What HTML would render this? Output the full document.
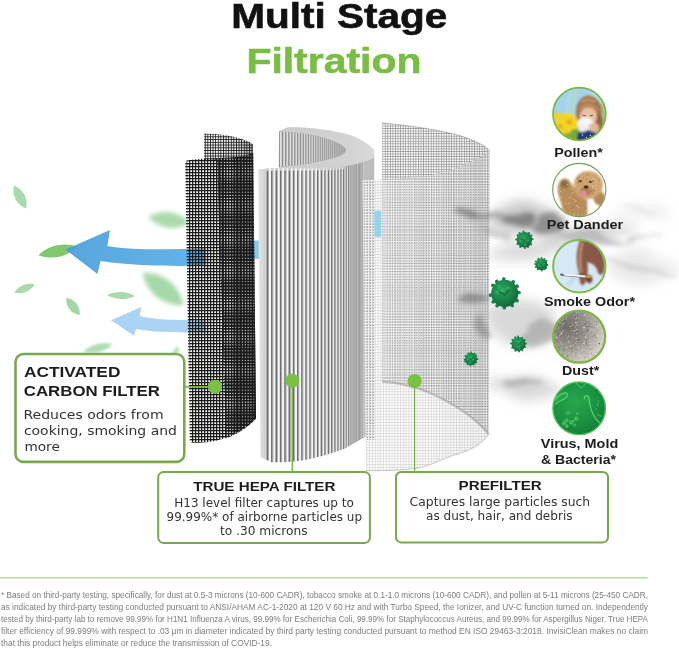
<!DOCTYPE html>
<html lang="en"><head><meta charset="utf-8"><title>Multi Stage Filtration</title>
<style>html,body{margin:0;padding:0;background:#fff;overflow:hidden}svg{display:block}</style></head>
<body>
<svg width="679" height="649" viewBox="0 0 679 649">
<defs>
<filter id="b1" x="-30%" y="-30%" width="160%" height="160%"><feGaussianBlur stdDeviation="1"/></filter>
<filter id="b2" x="-30%" y="-30%" width="160%" height="160%"><feGaussianBlur stdDeviation="2.2"/></filter>
<filter id="b4" x="-40%" y="-40%" width="180%" height="180%"><feGaussianBlur stdDeviation="4"/></filter>
<filter id="b7" x="-50%" y="-50%" width="200%" height="200%"><feGaussianBlur stdDeviation="7"/></filter>
<filter id="b12" x="-60%" y="-60%" width="220%" height="220%"><feGaussianBlur stdDeviation="12"/></filter>
<pattern id="cm" width="3" height="3" patternUnits="userSpaceOnUse" x="186" y="160"><rect width="3" height="1.25" fill="#1c1c1c"/><rect width="1.25" height="3" fill="#1c1c1c"/></pattern>
<pattern id="cm2" width="2.6" height="2.75" patternUnits="userSpaceOnUse" x="204.8" y="133.6"><rect width="2.6" height="0.9" fill="#262626"/><rect width="0.9" height="2.75" fill="#262626"/></pattern>
<pattern id="pm" width="2.55" height="2.55" patternUnits="userSpaceOnUse" x="382.3" y="123"><rect width="2.55" height="0.7" fill="#939393"/><rect width="0.7" height="2.55" fill="#939393"/></pattern>
<pattern id="pm2" width="2.8" height="2.8" patternUnits="userSpaceOnUse" x="362.6" y="180.3"><rect width="2.8" height="1.35" fill="#fff" fill-opacity="0.6"/><rect width="1.35" height="2.8" fill="#fff" fill-opacity="0.6"/><rect y="1.35" width="2.8" height="0.45" fill="#b4b4b4" fill-opacity="0.8"/><rect x="1.35" width="0.45" height="2.8" fill="#b4b4b4" fill-opacity="0.8"/></pattern>
<pattern id="pdots" width="2.45" height="2.65" patternUnits="userSpaceOnUse" x="382" y="181"><rect width="1.15" height="1.15" fill="#5c5c5c"/></pattern>
<linearGradient id="ag1" x1="0" x2="1" y1="0" y2="0"><stop offset="0" stop-color="#4b9fdc"/><stop offset="1" stop-color="#58aee6"/></linearGradient>
<clipPath id="hf"><path d="M258.2,169.3 C275,167.5 300,168.5 327,168 C346,167.5 362,163.5 374.2,157.5 L374.6,431.3 L345,448.4 C325,456 303,461.5 283,462.2 L271.5,462.2 L260.6,457.3 Z"/></clipPath>
<clipPath id="hi"><path d="M279.3,131.5 C290,131.8 305,133.5 318,136.2 C330,139 341,143.5 345.5,148.5 C347,151.5 344,154 339,156 C333,158.5 322,161.2 308,163.8 C298,165.3 288,166.2 279,167 Z"/></clipPath>
<linearGradient id="hband" gradientUnits="userSpaceOnUse" x1="300" x2="376" y1="0" y2="0"><stop offset="0" stop-color="#cdcdcd"/><stop offset="0.55" stop-color="#d2d2d2"/><stop offset="1" stop-color="#d9d9d9"/></linearGradient>
<linearGradient id="hig" gradientUnits="userSpaceOnUse" x1="279" x2="348" y1="0" y2="0"><stop offset="0" stop-color="#aaa" stop-opacity="0"/><stop offset="0.5" stop-color="#aaa" stop-opacity="0.2"/><stop offset="1" stop-color="#a6a6a6" stop-opacity="0.95"/></linearGradient>
<linearGradient id="hside" gradientUnits="userSpaceOnUse" x1="258" x2="266.6" y1="0" y2="0"><stop offset="0" stop-color="#e6e6e6"/><stop offset="1" stop-color="#cdcdcd"/></linearGradient>
<linearGradient id="hfg" gradientUnits="userSpaceOnUse" x1="257" x2="375" y1="0" y2="0"><stop offset="0" stop-color="#fff" stop-opacity="0"/><stop offset="0.5" stop-color="#808080" stop-opacity="0"/><stop offset="0.79" stop-color="#808080" stop-opacity="0.2"/><stop offset="0.885" stop-color="#808080" stop-opacity="0.34"/><stop offset="0.9" stop-color="#808080" stop-opacity="0.1"/><stop offset="1" stop-color="#808080" stop-opacity="0.16"/></linearGradient>
<linearGradient id="pedge" gradientUnits="userSpaceOnUse" x1="420" x2="490" y1="0" y2="0"><stop offset="0" stop-color="#8a8a8a" stop-opacity="0"/><stop offset="1" stop-color="#8a8a8a" stop-opacity="0.08"/></linearGradient>
<clipPath id="pfr"><path d="M362.6,180.3 C385,179.5 405,179 425,176 C450,172 475,162 489.5,150.5 L489,434 C483,444 468,452 452.5,455.5 C440,460.5 428,466.5 415.7,468.4 C405,470 385,470.9 366,470.7 Z"/></clipPath>
<pattern id="pstrip" width="2.8" height="2.8" patternUnits="userSpaceOnUse" x="362.6" y="180.3"><rect x="1.4" y="1.4" width="1.4" height="1.4" fill="#7c7c7c"/></pattern>
<clipPath id="pbk"><path d="M382.3,123 C410,125.5 450,131 470.6,139.3 C480,143.5 486,146.5 489.5,150.5 L488.5,434 C478,421 462,408 432.4,394 C415,386.5 398,382.5 382.3,381.7 Z"/></clipPath>
<linearGradient id="pdg" gradientUnits="userSpaceOnUse" x1="382" x2="490" y1="0" y2="0"><stop offset="0" stop-color="#fff" stop-opacity="0.3"/><stop offset="0.45" stop-color="#fff" stop-opacity="0.16"/><stop offset="1" stop-color="#fff" stop-opacity="0.1"/></linearGradient>
<filter id="smk" x="-20%" y="-40%" width="140%" height="180%"><feTurbulence type="fractalNoise" baseFrequency="0.018 0.035" numOctaves="3" seed="4" result="n"/><feDisplacementMap in="SourceGraphic" in2="n" scale="26" xChannelSelector="R" yChannelSelector="G" result="d"/><feGaussianBlur in="d" stdDeviation="2.6"/></filter>
<filter id="smk2" x="-20%" y="-40%" width="140%" height="180%"><feTurbulence type="fractalNoise" baseFrequency="0.012 0.03" numOctaves="2" seed="9" result="n"/><feDisplacementMap in="SourceGraphic" in2="n" scale="34" xChannelSelector="R" yChannelSelector="G" result="d"/><feGaussianBlur in="d" stdDeviation="6"/></filter>
<linearGradient id="cg" gradientUnits="userSpaceOnUse" x1="186" x2="256" y1="0" y2="0"><stop offset="0" stop-color="#111" stop-opacity="0"/><stop offset="0.42" stop-color="#111" stop-opacity="0.05"/><stop offset="0.7" stop-color="#111" stop-opacity="0.05"/><stop offset="1" stop-color="#111" stop-opacity="0.2"/></linearGradient>
<linearGradient id="cgb" gradientUnits="userSpaceOnUse" x1="217" x2="256" y1="0" y2="0"><stop offset="0" stop-color="#111" stop-opacity="0"/><stop offset="0.55" stop-color="#111" stop-opacity="0.1"/><stop offset="1" stop-color="#111" stop-opacity="0.4"/></linearGradient>
<radialGradient id="vg1" cx="0.4" cy="0.35" r="0.7"><stop offset="0" stop-color="#2a9f5c"/><stop offset="0.55" stop-color="#1b8649"/><stop offset="1" stop-color="#0e6334"/></radialGradient>
<radialGradient id="vg2" cx="0.4" cy="0.35" r="0.7"><stop offset="0" stop-color="#2a9f5c"/><stop offset="0.55" stop-color="#1b8649"/><stop offset="1" stop-color="#0e6334"/></radialGradient>
<radialGradient id="vg3" cx="0.4" cy="0.35" r="0.7"><stop offset="0" stop-color="#2a9f5c"/><stop offset="0.55" stop-color="#1b8649"/><stop offset="1" stop-color="#0e6334"/></radialGradient>
<radialGradient id="vg4" cx="0.4" cy="0.35" r="0.7"><stop offset="0" stop-color="#2a9f5c"/><stop offset="0.55" stop-color="#1b8649"/><stop offset="1" stop-color="#0e6334"/></radialGradient>
<radialGradient id="vg5" cx="0.4" cy="0.35" r="0.7"><stop offset="0" stop-color="#2a9f5c"/><stop offset="0.55" stop-color="#1b8649"/><stop offset="1" stop-color="#0e6334"/></radialGradient>
<clipPath id="cc0"><circle cx="579.4" cy="114" r="26.3"/></clipPath>
<clipPath id="cc1"><circle cx="579.3" cy="190" r="26.3"/></clipPath>
<clipPath id="cc2"><circle cx="579.3" cy="266.2" r="26.3"/></clipPath>
<clipPath id="cc3"><circle cx="579.2" cy="336.7" r="26.3"/></clipPath>
<clipPath id="cc4"><circle cx="579.2" cy="408.3" r="26.3"/></clipPath>
<radialGradient id="dg" gradientUnits="userSpaceOnUse" cx="567.2" cy="326.7" r="48"><stop offset="0" stop-color="#6f6b68"/><stop offset="0.45" stop-color="#9d9791"/><stop offset="0.8" stop-color="#d6cec6"/><stop offset="1" stop-color="#efeae5"/></radialGradient>
<radialGradient id="vg" gradientUnits="userSpaceOnUse" cx="575.2" cy="402.3" r="32"><stop offset="0" stop-color="#29a64d"/><stop offset="0.6" stop-color="#1c9443"/><stop offset="1" stop-color="#13803a"/></radialGradient>
</defs>
<rect width="679" height="649" fill="#fff"/>
<path d="M-21.0,0 C-8.4,-10.625 9.450000000000001,-9.774999999999999 21.0,0 C9.450000000000001,9.774999999999999 -8.4,10.625 -21.0,0Z" transform="translate(169,220) rotate(8)" fill="#8fcf92" opacity="0.75" filter="url(#b2)"/>
<path d="M-26.0,0 C-10.4,-13.75 11.700000000000001,-12.649999999999999 26.0,0 C11.700000000000001,12.649999999999999 -10.4,13.75 -26.0,0Z" transform="translate(163,289) rotate(38)" fill="#8fcf92" opacity="0.8" filter="url(#b2)"/>
<path d="M-15.0,0 C-6.0,-5.625 6.75,-5.175 15.0,0 C6.75,5.175 -6.0,5.625 -15.0,0Z" transform="translate(98,348) rotate(-14)" fill="#8fcf92" opacity="0.7" filter="url(#b1)"/>
<path d="M-5.0,0 C-2.0,-3.75 2.25,-3.4499999999999997 5.0,0 C2.25,3.4499999999999997 -2.0,3.75 -5.0,0Z" transform="translate(176,351) rotate(-60)" fill="#8fcf92" opacity="0.6" filter="url(#b1)"/>
<path d="M-13.0,0 C-5.2,-6.875 5.8500000000000005,-6.324999999999999 13.0,0 C5.8500000000000005,6.324999999999999 -5.2,6.875 -13.0,0Z" transform="translate(20,197) rotate(62)" fill="#a3d8a6" opacity="0.95"/>
<path d="M-20.0,0 C-8.0,-8.125 9.0,-7.475 20.0,0 C9.0,7.475 -8.0,8.125 -20.0,0Z" transform="translate(58,251) rotate(-12)" fill="#7fc96c" opacity="1"/>
<path d="M-11.0,0 C-4.4,-5.0 4.95,-4.6 11.0,0 C4.95,4.6 -4.4,5.0 -11.0,0Z" transform="translate(24.5,288.5) rotate(-22)" fill="#a3d8a6" opacity="0.95"/>
<path d="M-11.0,0 C-4.4,-6.25 4.95,-5.75 11.0,0 C4.95,5.75 -4.4,6.25 -11.0,0Z" transform="translate(73,306.5) rotate(52)" fill="#9fd5a0" opacity="0.95"/>
<path d="M-14.0,0 C-5.6000000000000005,-5.0 6.3,-4.6 14.0,0 C6.3,4.6 -5.6000000000000005,5.0 -14.0,0Z" transform="translate(121,295.5) rotate(2)" fill="#a3d8a6" opacity="0.95"/>
<path d="M65.5,249.5 L110,230 L107.3,246 C135,250.5 165,249.5 206,248.6 L206,265.6 C165,266.5 130,265.5 100.5,261 L97.5,274 Z" fill="url(#ag1)" opacity="0.93"/>
<path d="M111,320.3 L141.3,307 L139.8,316 C155,319.5 172,320.3 206,320.3 L206,332.5 C172,332.5 152,332 136,329 L134,335.8 Z" fill="#a8d1f0" opacity="0.95"/>
<rect x="250" y="240.5" width="9" height="18.5" fill="#8ccbe8"/>
<path d="M382.3,123 C410,125.5 450,131 470.6,139.3 C480,143.5 486,146.5 489.5,150.5 L488.5,434 C478,421 462,408 432.4,394 C415,386.5 398,382.5 382.3,381.7 Z" fill="#fff"/>
<path d="M382.3,123 C410,125.5 450,131 470.6,139.3 C480,143.5 486,146.5 489.5,150.5 L488.5,434 C478,421 462,408 432.4,394 C415,386.5 398,382.5 382.3,381.7 Z" fill="url(#pm)"/>
<path d="M279,131 L288,127.2 C300,126.8 322,128 345,133.5 C358,137 368,143 374.4,150.3 L374.2,158 C362,164 346,168 327,168.5 L278.7,168.5 Z" fill="url(#hband)"/>
<g clip-path="url(#hi)"><rect x="276" y="126" width="75" height="46" fill="#8c8c8c"/><rect x="279.99" y="126" width="1.81" height="46" fill="#e2e2e2"/><rect x="283.26" y="126" width="1.77" height="46" fill="#e2e2e2"/><rect x="286.45" y="126" width="1.72" height="46" fill="#e2e2e2"/><rect x="289.55" y="126" width="1.67" height="46" fill="#e2e2e2"/><rect x="292.56" y="126" width="1.63" height="46" fill="#e2e2e2"/><rect x="295.49" y="126" width="1.58" height="46" fill="#e2e2e2"/><rect x="298.34" y="126" width="1.54" height="46" fill="#e2e2e2"/><rect x="301.12" y="126" width="1.50" height="46" fill="#e2e2e2"/><rect x="303.82" y="126" width="1.46" height="46" fill="#e2e2e2"/><rect x="306.44" y="126" width="1.42" height="46" fill="#e2e2e2"/><rect x="309.00" y="126" width="1.38" height="46" fill="#e2e2e2"/><rect x="311.49" y="126" width="1.34" height="46" fill="#e2e2e2"/><rect x="313.90" y="126" width="1.30" height="46" fill="#e2e2e2"/><rect x="316.26" y="126" width="1.27" height="46" fill="#e2e2e2"/><rect x="318.54" y="126" width="1.23" height="46" fill="#e2e2e2"/><rect x="320.77" y="126" width="1.20" height="46" fill="#e2e2e2"/><rect x="322.94" y="126" width="1.17" height="46" fill="#e2e2e2"/><rect x="325.05" y="126" width="1.14" height="46" fill="#e2e2e2"/><rect x="327.10" y="126" width="1.11" height="46" fill="#e2e2e2"/><rect x="329.09" y="126" width="1.08" height="46" fill="#e2e2e2"/><rect x="331.03" y="126" width="1.05" height="46" fill="#e2e2e2"/><rect x="332.92" y="126" width="1.02" height="46" fill="#e2e2e2"/><rect x="334.75" y="126" width="0.99" height="46" fill="#e2e2e2"/><rect x="336.54" y="126" width="0.96" height="46" fill="#e2e2e2"/><rect x="338.28" y="126" width="0.94" height="46" fill="#e2e2e2"/><rect x="339.97" y="126" width="0.91" height="46" fill="#e2e2e2"/><rect x="341.62" y="126" width="0.89" height="46" fill="#e2e2e2"/><rect x="343.22" y="126" width="0.86" height="46" fill="#e2e2e2"/><rect x="344.77" y="126" width="0.84" height="46" fill="#e2e2e2"/><rect x="346.29" y="126" width="0.82" height="46" fill="#e2e2e2"/><rect x="347.76" y="126" width="0.79" height="46" fill="#e2e2e2"/><rect x="349.19" y="126" width="0.77" height="46" fill="#e2e2e2"/><rect x="276" y="126" width="75" height="46" fill="url(#hig)"/></g>
<g clip-path="url(#hf)"><rect x="255" y="145" width="122" height="320" fill="#f4f4f4"/><rect x="255" y="145" width="11.6" height="320" fill="url(#hside)"/><rect x="266.60" y="145" width="1.60" height="320" fill="#6e6e6e"/><rect x="268.20" y="145" width="0.71" height="320" fill="#a0a0a0"/><rect x="271.04" y="145" width="1.59" height="320" fill="#6e6e6e"/><rect x="272.63" y="145" width="0.71" height="320" fill="#a0a0a0"/><rect x="275.46" y="145" width="1.58" height="320" fill="#6e6e6e"/><rect x="277.05" y="145" width="0.70" height="320" fill="#a0a0a0"/><rect x="279.86" y="145" width="1.57" height="320" fill="#6e6e6e"/><rect x="281.43" y="145" width="0.70" height="320" fill="#a0a0a0"/><rect x="284.23" y="145" width="1.56" height="320" fill="#6e6e6e"/><rect x="285.78" y="145" width="0.69" height="320" fill="#a0a0a0"/><rect x="288.55" y="145" width="1.54" height="320" fill="#6e6e6e"/><rect x="290.09" y="145" width="0.68" height="320" fill="#a0a0a0"/><rect x="292.82" y="145" width="1.52" height="320" fill="#6e6e6e"/><rect x="294.34" y="145" width="0.67" height="320" fill="#a0a0a0"/><rect x="297.04" y="145" width="1.49" height="320" fill="#6e6e6e"/><rect x="298.53" y="145" width="0.66" height="320" fill="#a0a0a0"/><rect x="301.19" y="145" width="1.47" height="320" fill="#6e6e6e"/><rect x="302.65" y="145" width="0.65" height="320" fill="#a0a0a0"/><rect x="305.26" y="145" width="1.44" height="320" fill="#6e6e6e"/><rect x="306.70" y="145" width="0.64" height="320" fill="#a0a0a0"/><rect x="309.26" y="145" width="1.41" height="320" fill="#6e6e6e"/><rect x="310.66" y="145" width="0.62" height="320" fill="#a0a0a0"/><rect x="313.16" y="145" width="1.37" height="320" fill="#6e6e6e"/><rect x="314.53" y="145" width="0.61" height="320" fill="#a0a0a0"/><rect x="316.97" y="145" width="1.33" height="320" fill="#6e6e6e"/><rect x="318.31" y="145" width="0.59" height="320" fill="#a0a0a0"/><rect x="320.68" y="145" width="1.29" height="320" fill="#6e6e6e"/><rect x="321.97" y="145" width="0.58" height="320" fill="#a0a0a0"/><rect x="324.27" y="145" width="1.25" height="320" fill="#6e6e6e"/><rect x="325.52" y="145" width="0.56" height="320" fill="#a0a0a0"/><rect x="327.75" y="145" width="1.21" height="320" fill="#6e6e6e"/><rect x="328.95" y="145" width="0.54" height="320" fill="#a0a0a0"/><rect x="331.10" y="145" width="1.16" height="320" fill="#6e6e6e"/><rect x="332.26" y="145" width="0.52" height="320" fill="#a0a0a0"/><rect x="334.32" y="145" width="1.11" height="320" fill="#6e6e6e"/><rect x="335.43" y="145" width="0.49" height="320" fill="#a0a0a0"/><rect x="337.40" y="145" width="1.06" height="320" fill="#6e6e6e"/><rect x="338.45" y="145" width="0.47" height="320" fill="#a0a0a0"/><rect x="340.33" y="145" width="1.00" height="320" fill="#6e6e6e"/><rect x="341.34" y="145" width="0.45" height="320" fill="#a0a0a0"/><rect x="343.12" y="145" width="0.95" height="320" fill="#6e6e6e"/><rect x="344.07" y="145" width="0.42" height="320" fill="#a0a0a0"/><rect x="345.75" y="145" width="0.89" height="320" fill="#6e6e6e"/><rect x="346.64" y="145" width="0.39" height="320" fill="#a0a0a0"/><rect x="348.22" y="145" width="0.83" height="320" fill="#6e6e6e"/><rect x="349.04" y="145" width="0.37" height="320" fill="#a0a0a0"/><rect x="350.52" y="145" width="0.77" height="320" fill="#6e6e6e"/><rect x="351.28" y="145" width="0.34" height="320" fill="#a0a0a0"/><rect x="352.64" y="145" width="0.70" height="320" fill="#6e6e6e"/><rect x="353.35" y="145" width="0.31" height="320" fill="#a0a0a0"/><rect x="354.59" y="145" width="0.64" height="320" fill="#6e6e6e"/><rect x="355.23" y="145" width="0.28" height="320" fill="#a0a0a0"/><rect x="356.36" y="145" width="0.57" height="320" fill="#6e6e6e"/><rect x="356.93" y="145" width="0.25" height="320" fill="#a0a0a0"/><rect x="357.94" y="145" width="0.50" height="320" fill="#6e6e6e"/><rect x="358.44" y="145" width="0.22" height="320" fill="#a0a0a0"/><rect x="359.33" y="145" width="0.47" height="320" fill="#6e6e6e"/><rect x="359.80" y="145" width="0.21" height="320" fill="#a0a0a0"/><rect x="360.63" y="145" width="0.47" height="320" fill="#6e6e6e"/><rect x="361.10" y="145" width="0.21" height="320" fill="#a0a0a0"/><rect x="361.93" y="145" width="0.47" height="320" fill="#6e6e6e"/><rect x="362.40" y="145" width="0.21" height="320" fill="#a0a0a0"/><rect x="363.23" y="145" width="13.77" height="320" fill="#c6c6c6"/><path d="M266.40,167.65 L268.82,167.65 L268.46,170.65 L266.40,171.25Z" fill="#d9d9d9"/><path d="M270.84,167.45 L273.25,167.45 L272.90,170.45 L270.84,171.05Z" fill="#d9d9d9"/><path d="M275.26,167.32 L277.66,167.32 L277.31,170.32 L275.26,170.92Z" fill="#d9d9d9"/><path d="M279.66,167.24 L282.04,167.24 L281.69,170.24 L279.66,170.84Z" fill="#d9d9d9"/><path d="M284.03,167.19 L286.39,167.19 L286.04,170.19 L284.03,170.79Z" fill="#d9d9d9"/><path d="M288.35,167.16 L290.69,167.16 L290.34,170.16 L288.35,170.76Z" fill="#d9d9d9"/><path d="M292.62,167.16 L294.93,167.16 L294.59,170.16 L292.62,170.76Z" fill="#d9d9d9"/><path d="M296.84,167.16 L299.11,167.16 L298.78,170.16 L296.84,170.76Z" fill="#d9d9d9"/><path d="M300.99,167.16 L303.23,167.16 L302.90,170.16 L300.99,170.76Z" fill="#d9d9d9"/><path d="M305.06,167.16 L307.26,167.16 L306.94,170.16 L305.06,170.76Z" fill="#d9d9d9"/><path d="M309.06,167.16 L311.21,167.16 L310.90,170.16 L309.06,170.76Z" fill="#d9d9d9"/><path d="M312.96,167.15 L315.07,167.15 L314.76,170.15 L312.96,170.75Z" fill="#d9d9d9"/><path d="M316.77,167.13 L318.83,167.13 L318.53,170.13 L316.77,170.73Z" fill="#d9d9d9"/><path d="M320.48,167.09 L322.47,167.09 L322.19,170.09 L320.48,170.69Z" fill="#d9d9d9"/><path d="M324.07,167.05 L326.01,167.05 L325.73,170.05 L324.07,170.65Z" fill="#d9d9d9"/><path d="M327.55,166.98 L329.42,166.98 L329.15,169.98 L327.55,170.58Z" fill="#d9d9d9"/><path d="M330.90,166.84 L332.71,166.84 L332.45,169.84 L330.90,170.44Z" fill="#d9d9d9"/><path d="M334.12,166.63 L335.86,166.63 L335.61,169.63 L334.12,170.23Z" fill="#d9d9d9"/><path d="M337.20,166.35 L338.87,166.35 L338.63,169.35 L337.20,169.95Z" fill="#d9d9d9"/><path d="M340.13,166.03 L341.73,166.03 L341.50,169.03 L340.13,169.63Z" fill="#d9d9d9"/><path d="M342.92,165.67 L344.43,165.67 L344.22,168.67 L342.92,169.27Z" fill="#d9d9d9"/><rect x="255" y="145" width="122" height="320" fill="url(#hfg)"/></g>
<path d="M382.3,123 C410,125.5 450,131 470.6,139.3 C480,143.5 486,146.5 489.5,150.5 L488.5,434 C478,421 462,408 432.4,394 C415,386.5 398,382.5 382.3,381.7 Z" fill="url(#pedge)"/>
<g clip-path="url(#pfr)"><rect x="362" y="178" width="12.8" height="262" fill="#fff" fill-opacity="0.82"/><rect x="362" y="178" width="12.8" height="262" fill="url(#pstrip)"/></g>
<path d="M362.6,180.3 C385,179.5 405,179 425,176 C450,172 475,162 489.5,150.5 L489,434 C483,444 468,452 452.5,455.5 C440,460.5 428,466.5 415.7,468.4 C405,470 385,470.9 366,470.7 Z" fill="url(#pm2)"/>
<path d="M362.6,180.3 C385,179.5 405,179 425,176 C450,172 475,162 489.5,150.5 L489,434 C483,444 468,452 452.5,455.5 C440,460.5 428,466.5 415.7,468.4 C405,470 385,470.9 366,470.7 Z" fill="url(#pedge)"/>
<g clip-path="url(#pbk)"><path d="M362.6,180.3 C385,179.5 405,179 425,176 C450,172 475,162 489.5,150.5 L489,434 C483,444 468,452 452.5,455.5 C440,460.5 428,466.5 415.7,468.4 C405,470 385,470.9 366,470.7 Z" fill="url(#pdots)" opacity="0.7"/><path d="M362.6,180.3 C385,179.5 405,179 425,176 C450,172 475,162 489.5,150.5 L489,434 C483,444 468,452 452.5,455.5 C440,460.5 428,466.5 415.7,468.4 C405,470 385,470.9 366,470.7 Z" fill="url(#pdg)"/></g>
<path d="M382.3,381.7 C398,382.5 415,386.5 432.4,394 C462,408 478,421 488.5,434" fill="none" stroke="#8f8f8f" stroke-width="2.2" stroke-opacity="0.45"/>
<path d="M489,434 C483,444 468,452 452.5,455.5 C440,460.5 428,466.5 415.7,468.4 C405,470 385,470.9 366,470.7" fill="none" stroke="#9a9a9a" stroke-width="1" stroke-opacity="0.5"/>
<path d="M382.3,123 C410,125.5 450,131 470.6,139.3 C480,143.5 486,146.5 489.5,150.5" fill="none" stroke="#8a8a8a" stroke-width="1" stroke-opacity="0.55"/>
<rect x="374.4" y="210.6" width="6.9" height="26.2" fill="#8fd1e8" opacity="0.92"/>
<g filter="url(#smk2)"><ellipse cx="585" cy="237" rx="52" ry="9" fill="#b0b0b0" opacity="0.55"/><ellipse cx="644" cy="268" rx="36" ry="16" fill="#c8c8c8" opacity="0.38"/><ellipse cx="640" cy="212" rx="30" ry="9" fill="#cccccc" opacity="0.3"/><ellipse cx="522" cy="250" rx="32" ry="11" fill="#bdbdbd" opacity="0.53"/><ellipse cx="524" cy="322" rx="36" ry="22" fill="#bdbdbd" opacity="0.57"/><ellipse cx="524" cy="382" rx="38" ry="12" fill="#bcbcbc" opacity="0.57"/><ellipse cx="524" cy="221" rx="36" ry="13" fill="#9a9a9a" opacity="0.53"/></g><g filter="url(#smk)"><ellipse cx="474" cy="214" rx="18" ry="4.5" fill="#6a6a6a" opacity="0.66" transform="rotate(6 474 214)"/><ellipse cx="518" cy="218" rx="16" ry="8.5" fill="#686868" opacity="0.7"/><ellipse cx="547" cy="226" rx="13" ry="7" fill="#707070" opacity="0.65"/><ellipse cx="500" cy="213" rx="12" ry="5" fill="#808080" opacity="0.48"/><ellipse cx="588" cy="236" rx="32" ry="5" fill="#999" opacity="0.44" transform="rotate(4 588 236)"/><path d="M596,238 C618,236 640,235 662,238" stroke="#a8a8a8" stroke-width="3.5" fill="none" opacity="0.5"/><path d="M608,260 C624,260 640,274 679,276" stroke="#b0b0b0" stroke-width="3.5" fill="none" opacity="0.5"/><path d="M626,204 C640,205 650,209 660,213" stroke="#c0c0c0" stroke-width="3" fill="none" opacity="0.4"/><ellipse cx="497" cy="234" rx="18" ry="3" fill="#9a9a9a" opacity="0.44" transform="rotate(18 497 234)"/><ellipse cx="476" cy="296" rx="15" ry="6" fill="#6c6c6c" opacity="0.62" transform="rotate(10 476 296)"/><ellipse cx="483" cy="330" rx="8" ry="12" fill="#7a7a7a" opacity="0.53"/><ellipse cx="540" cy="333" rx="14" ry="11" fill="#8c8c8c" opacity="0.48"/><ellipse cx="523" cy="386" rx="24" ry="4" fill="#8c8c8c" opacity="0.48" transform="rotate(-5 523 386)"/></g>
<path d="M204,133.6 C218,133.8 240,136 253,144.2 L256,418.5 C247,428 238,434 226,438.5 L217,160 L204,160 Z" fill="url(#cm2)"/>
<path d="M204,133.6 C218,133.8 240,136 253,144.2 L256,418.5 C247,428 238,434 226,438.5 L217,160 L204,160 Z" fill="url(#cgb)"/>
<path d="M186.5,160.4 C196,158.8 208,158.5 219,158 C235,157.5 247,156 253.2,153 L256,418.5 C247,428 232,437 215,441 C207,442.8 198,443 191.1,442.4 Z" fill="url(#cm)"/>
<path d="M186.5,160.4 C196,158.8 208,158.5 219,158 C235,157.5 247,156 253.2,153 L256,418.5 C247,428 232,437 215,441 C207,442.8 198,443 191.1,442.4 Z" fill="url(#cg)"/>
<rect x="185.24" y="163.00" width="1.6" height="1.35" fill="#1c1c1c"/><rect x="185.29" y="166.00" width="1.6" height="1.35" fill="#1c1c1c"/><rect x="185.34" y="169.00" width="1.6" height="1.35" fill="#1c1c1c"/><rect x="185.39" y="172.00" width="1.6" height="1.35" fill="#1c1c1c"/><rect x="185.44" y="175.00" width="1.6" height="1.35" fill="#1c1c1c"/><rect x="185.49" y="178.00" width="1.6" height="1.35" fill="#1c1c1c"/><rect x="185.54" y="181.00" width="1.6" height="1.35" fill="#1c1c1c"/><rect x="185.58" y="184.00" width="1.6" height="1.35" fill="#1c1c1c"/><rect x="185.63" y="187.00" width="1.6" height="1.35" fill="#1c1c1c"/><rect x="185.68" y="190.00" width="1.6" height="1.35" fill="#1c1c1c"/><rect x="185.73" y="193.00" width="1.6" height="1.35" fill="#1c1c1c"/><rect x="185.78" y="196.00" width="1.6" height="1.35" fill="#1c1c1c"/><rect x="185.83" y="199.00" width="1.6" height="1.35" fill="#1c1c1c"/><rect x="185.88" y="202.00" width="1.6" height="1.35" fill="#1c1c1c"/><rect x="185.93" y="205.00" width="1.6" height="1.35" fill="#1c1c1c"/><rect x="185.98" y="208.00" width="1.6" height="1.35" fill="#1c1c1c"/><rect x="186.03" y="211.00" width="1.6" height="1.35" fill="#1c1c1c"/><rect x="186.07" y="214.00" width="1.6" height="1.35" fill="#1c1c1c"/><rect x="186.12" y="217.00" width="1.6" height="1.35" fill="#1c1c1c"/><rect x="186.17" y="220.00" width="1.6" height="1.35" fill="#1c1c1c"/><rect x="186.22" y="223.00" width="1.6" height="1.35" fill="#1c1c1c"/><rect x="186.27" y="226.00" width="1.6" height="1.35" fill="#1c1c1c"/><rect x="186.32" y="229.00" width="1.6" height="1.35" fill="#1c1c1c"/><rect x="186.37" y="232.00" width="1.6" height="1.35" fill="#1c1c1c"/><rect x="186.42" y="235.00" width="1.6" height="1.35" fill="#1c1c1c"/><rect x="186.47" y="238.00" width="1.6" height="1.35" fill="#1c1c1c"/><rect x="186.51" y="241.00" width="1.6" height="1.35" fill="#1c1c1c"/><rect x="186.56" y="244.00" width="1.6" height="1.35" fill="#1c1c1c"/><rect x="186.61" y="247.00" width="1.6" height="1.35" fill="#1c1c1c"/><rect x="186.66" y="250.00" width="1.6" height="1.35" fill="#1c1c1c"/><rect x="186.71" y="253.00" width="1.6" height="1.35" fill="#1c1c1c"/><rect x="186.76" y="256.00" width="1.6" height="1.35" fill="#1c1c1c"/><rect x="186.81" y="259.00" width="1.6" height="1.35" fill="#1c1c1c"/><rect x="186.86" y="262.00" width="1.6" height="1.35" fill="#1c1c1c"/><rect x="186.91" y="265.00" width="1.6" height="1.35" fill="#1c1c1c"/><rect x="186.96" y="268.00" width="1.6" height="1.35" fill="#1c1c1c"/><rect x="187.00" y="271.00" width="1.6" height="1.35" fill="#1c1c1c"/><rect x="187.05" y="274.00" width="1.6" height="1.35" fill="#1c1c1c"/><rect x="187.10" y="277.00" width="1.6" height="1.35" fill="#1c1c1c"/><rect x="187.15" y="280.00" width="1.6" height="1.35" fill="#1c1c1c"/><rect x="187.20" y="283.00" width="1.6" height="1.35" fill="#1c1c1c"/><rect x="187.25" y="286.00" width="1.6" height="1.35" fill="#1c1c1c"/><rect x="187.30" y="289.00" width="1.6" height="1.35" fill="#1c1c1c"/><rect x="187.35" y="292.00" width="1.6" height="1.35" fill="#1c1c1c"/><rect x="187.40" y="295.00" width="1.6" height="1.35" fill="#1c1c1c"/><rect x="187.44" y="298.00" width="1.6" height="1.35" fill="#1c1c1c"/><rect x="187.49" y="301.00" width="1.6" height="1.35" fill="#1c1c1c"/><rect x="187.54" y="304.00" width="1.6" height="1.35" fill="#1c1c1c"/><rect x="187.59" y="307.00" width="1.6" height="1.35" fill="#1c1c1c"/><rect x="187.64" y="310.00" width="1.6" height="1.35" fill="#1c1c1c"/><rect x="187.69" y="313.00" width="1.6" height="1.35" fill="#1c1c1c"/><rect x="187.74" y="316.00" width="1.6" height="1.35" fill="#1c1c1c"/><rect x="187.79" y="319.00" width="1.6" height="1.35" fill="#1c1c1c"/><rect x="187.84" y="322.00" width="1.6" height="1.35" fill="#1c1c1c"/><rect x="187.88" y="325.00" width="1.6" height="1.35" fill="#1c1c1c"/><rect x="187.93" y="328.00" width="1.6" height="1.35" fill="#1c1c1c"/><rect x="187.98" y="331.00" width="1.6" height="1.35" fill="#1c1c1c"/><rect x="188.03" y="334.00" width="1.6" height="1.35" fill="#1c1c1c"/><rect x="188.08" y="337.00" width="1.6" height="1.35" fill="#1c1c1c"/><rect x="188.13" y="340.00" width="1.6" height="1.35" fill="#1c1c1c"/><rect x="188.18" y="343.00" width="1.6" height="1.35" fill="#1c1c1c"/><rect x="188.23" y="346.00" width="1.6" height="1.35" fill="#1c1c1c"/><rect x="188.28" y="349.00" width="1.6" height="1.35" fill="#1c1c1c"/><rect x="188.33" y="352.00" width="1.6" height="1.35" fill="#1c1c1c"/><rect x="188.37" y="355.00" width="1.6" height="1.35" fill="#1c1c1c"/><rect x="188.42" y="358.00" width="1.6" height="1.35" fill="#1c1c1c"/><rect x="188.47" y="361.00" width="1.6" height="1.35" fill="#1c1c1c"/><rect x="188.52" y="364.00" width="1.6" height="1.35" fill="#1c1c1c"/><rect x="188.57" y="367.00" width="1.6" height="1.35" fill="#1c1c1c"/><rect x="188.62" y="370.00" width="1.6" height="1.35" fill="#1c1c1c"/><rect x="188.67" y="373.00" width="1.6" height="1.35" fill="#1c1c1c"/><rect x="188.72" y="376.00" width="1.6" height="1.35" fill="#1c1c1c"/><rect x="188.77" y="379.00" width="1.6" height="1.35" fill="#1c1c1c"/><rect x="188.81" y="382.00" width="1.6" height="1.35" fill="#1c1c1c"/><rect x="188.86" y="385.00" width="1.6" height="1.35" fill="#1c1c1c"/><rect x="188.91" y="388.00" width="1.6" height="1.35" fill="#1c1c1c"/><rect x="188.96" y="391.00" width="1.6" height="1.35" fill="#1c1c1c"/><rect x="189.01" y="394.00" width="1.6" height="1.35" fill="#1c1c1c"/><rect x="189.06" y="397.00" width="1.6" height="1.35" fill="#1c1c1c"/><rect x="189.11" y="400.00" width="1.6" height="1.35" fill="#1c1c1c"/><rect x="189.16" y="403.00" width="1.6" height="1.35" fill="#1c1c1c"/><rect x="189.21" y="406.00" width="1.6" height="1.35" fill="#1c1c1c"/><rect x="189.26" y="409.00" width="1.6" height="1.35" fill="#1c1c1c"/><rect x="189.30" y="412.00" width="1.6" height="1.35" fill="#1c1c1c"/><rect x="189.35" y="415.00" width="1.6" height="1.35" fill="#1c1c1c"/><rect x="189.40" y="418.00" width="1.6" height="1.35" fill="#1c1c1c"/><rect x="189.45" y="421.00" width="1.6" height="1.35" fill="#1c1c1c"/><rect x="189.50" y="424.00" width="1.6" height="1.35" fill="#1c1c1c"/><rect x="189.55" y="427.00" width="1.6" height="1.35" fill="#1c1c1c"/><rect x="189.60" y="430.00" width="1.6" height="1.35" fill="#1c1c1c"/><rect x="189.65" y="433.00" width="1.6" height="1.35" fill="#1c1c1c"/><rect x="189.70" y="436.00" width="1.6" height="1.35" fill="#1c1c1c"/><rect x="189.74" y="439.00" width="1.6" height="1.35" fill="#1c1c1c"/>
<g transform="translate(524.4,239.8)"><circle cx="8.15" cy="-0.72" r="1.06" fill="#17804a"/><circle cx="6.72" cy="4.67" r="1.06" fill="#17804a"/><circle cx="3.64" cy="7.33" r="1.06" fill="#17804a"/><circle cx="0.48" cy="8.17" r="1.06" fill="#17804a"/><circle cx="-4.08" cy="7.09" r="1.06" fill="#17804a"/><circle cx="-7.04" cy="4.18" r="1.06" fill="#17804a"/><circle cx="-8.18" cy="-0.30" r="1.06" fill="#17804a"/><circle cx="-6.79" cy="-4.57" r="1.06" fill="#17804a"/><circle cx="-4.76" cy="-6.66" r="1.06" fill="#17804a"/><circle cx="-0.92" cy="-8.13" r="1.06" fill="#17804a"/><circle cx="4.65" cy="-6.74" r="1.06" fill="#17804a"/><circle cx="7.02" cy="-4.21" r="1.06" fill="#17804a"/><circle r="7.74" fill="url(#vg1)"/><circle cx="0.14" cy="-1.76" r="1.14" fill="#35b06c" opacity="0.7"/><circle cx="-4.05" cy="1.45" r="1.14" fill="#35b06c" opacity="0.7"/><circle cx="0.68" cy="5.04" r="1.14" fill="#35b06c" opacity="0.7"/><circle cx="1.52" cy="-1.08" r="1.14" fill="#35b06c" opacity="0.7"/><circle cx="3.62" cy="0.58" r="1.14" fill="#35b06c" opacity="0.7"/><path d="M-3.08,-0.88 L0,0.88 L2.64,-2.20" stroke="#0e5e33" stroke-width="0.88" fill="none" opacity="0.7"/></g>
<g transform="translate(541.3,264.2)"><circle cx="6.29" cy="0.69" r="0.90" fill="#17804a"/><circle cx="5.11" cy="3.73" r="0.90" fill="#17804a"/><circle cx="3.73" cy="5.11" r="0.90" fill="#17804a"/><circle cx="0.63" cy="6.29" r="0.90" fill="#17804a"/><circle cx="-3.59" cy="5.20" r="0.90" fill="#17804a"/><circle cx="-5.65" cy="2.85" r="0.90" fill="#17804a"/><circle cx="-6.32" cy="-0.26" r="0.90" fill="#17804a"/><circle cx="-5.62" cy="-2.91" r="0.90" fill="#17804a"/><circle cx="-3.02" cy="-5.56" r="0.90" fill="#17804a"/><circle cx="0.16" cy="-6.32" r="0.90" fill="#17804a"/><circle cx="3.27" cy="-5.41" r="0.90" fill="#17804a"/><circle cx="5.20" cy="-3.60" r="0.90" fill="#17804a"/><circle r="5.98" fill="url(#vg2)"/><circle cx="-2.20" cy="1.03" r="0.88" fill="#35b06c" opacity="0.7"/><circle cx="-0.69" cy="-4.01" r="0.88" fill="#35b06c" opacity="0.7"/><circle cx="2.70" cy="-0.89" r="0.88" fill="#35b06c" opacity="0.7"/><circle cx="-1.97" cy="0.71" r="0.88" fill="#35b06c" opacity="0.7"/><circle cx="1.40" cy="0.32" r="0.88" fill="#35b06c" opacity="0.7"/><path d="M-2.38,-0.68 L0,0.68 L2.04,-1.70" stroke="#0e5e33" stroke-width="0.80" fill="none" opacity="0.7"/></g>
<g transform="translate(504.7,293.4)"><circle cx="14.29" cy="-0.90" r="1.85" fill="#17804a"/><circle cx="12.33" cy="7.29" r="1.85" fill="#17804a"/><circle cx="7.54" cy="12.17" r="1.85" fill="#17804a"/><circle cx="-0.36" cy="14.32" r="1.85" fill="#17804a"/><circle cx="-7.53" cy="12.18" r="1.85" fill="#17804a"/><circle cx="-11.59" cy="8.41" r="1.85" fill="#17804a"/><circle cx="-14.22" cy="1.67" r="1.85" fill="#17804a"/><circle cx="-11.78" cy="-8.14" r="1.85" fill="#17804a"/><circle cx="-7.87" cy="-11.97" r="1.85" fill="#17804a"/><circle cx="-0.91" cy="-14.29" r="1.85" fill="#17804a"/><circle cx="8.58" cy="-11.47" r="1.85" fill="#17804a"/><circle cx="12.35" cy="-7.25" r="1.85" fill="#17804a"/><circle r="13.55" fill="url(#vg3)"/><circle cx="3.11" cy="-5.15" r="2.00" fill="#35b06c" opacity="0.7"/><circle cx="-2.57" cy="-3.07" r="2.00" fill="#35b06c" opacity="0.7"/><circle cx="-5.58" cy="-6.32" r="2.00" fill="#35b06c" opacity="0.7"/><circle cx="-7.57" cy="-1.11" r="2.00" fill="#35b06c" opacity="0.7"/><circle cx="-1.65" cy="-3.06" r="2.00" fill="#35b06c" opacity="0.7"/><path d="M-5.39,-1.54 L0,1.54 L4.62,-3.85" stroke="#0e5e33" stroke-width="1.54" fill="none" opacity="0.7"/></g>
<g transform="translate(518.5,344)"><circle cx="7.43" cy="-0.47" r="0.96" fill="#17804a"/><circle cx="6.77" cy="3.09" r="0.96" fill="#17804a"/><circle cx="3.88" cy="6.35" r="0.96" fill="#17804a"/><circle cx="0.62" cy="7.41" r="0.96" fill="#17804a"/><circle cx="-3.03" cy="6.79" r="0.96" fill="#17804a"/><circle cx="-6.35" cy="3.87" r="0.96" fill="#17804a"/><circle cx="-7.40" cy="-0.75" r="0.96" fill="#17804a"/><circle cx="-6.16" cy="-4.17" r="0.96" fill="#17804a"/><circle cx="-3.30" cy="-6.67" r="0.96" fill="#17804a"/><circle cx="-0.50" cy="-7.42" r="0.96" fill="#17804a"/><circle cx="3.78" cy="-6.41" r="0.96" fill="#17804a"/><circle cx="6.23" cy="-4.06" r="0.96" fill="#17804a"/><circle r="7.04" fill="url(#vg4)"/><circle cx="0.91" cy="1.72" r="1.04" fill="#35b06c" opacity="0.7"/><circle cx="1.01" cy="4.45" r="1.04" fill="#35b06c" opacity="0.7"/><circle cx="1.99" cy="-3.68" r="1.04" fill="#35b06c" opacity="0.7"/><circle cx="0.69" cy="-2.11" r="1.04" fill="#35b06c" opacity="0.7"/><circle cx="-1.32" cy="3.35" r="1.04" fill="#35b06c" opacity="0.7"/><path d="M-2.80,-0.80 L0,0.80 L2.40,-2.00" stroke="#0e5e33" stroke-width="0.80" fill="none" opacity="0.7"/></g>
<g transform="translate(471,359)"><circle cx="6.51" cy="0.19" r="0.90" fill="#17804a"/><circle cx="5.44" cy="3.58" r="0.90" fill="#17804a"/><circle cx="2.85" cy="5.85" r="0.90" fill="#17804a"/><circle cx="-0.69" cy="6.47" r="0.90" fill="#17804a"/><circle cx="-3.57" cy="5.44" r="0.90" fill="#17804a"/><circle cx="-5.94" cy="2.67" r="0.90" fill="#17804a"/><circle cx="-6.47" cy="0.73" r="0.90" fill="#17804a"/><circle cx="-5.66" cy="-3.21" r="0.90" fill="#17804a"/><circle cx="-2.64" cy="-5.95" r="0.90" fill="#17804a"/><circle cx="0.23" cy="-6.51" r="0.90" fill="#17804a"/><circle cx="3.78" cy="-5.30" r="0.90" fill="#17804a"/><circle cx="5.31" cy="-3.76" r="0.90" fill="#17804a"/><circle r="6.16" fill="url(#vg5)"/><circle cx="-2.05" cy="0.40" r="0.91" fill="#35b06c" opacity="0.7"/><circle cx="-2.89" cy="-0.82" r="0.91" fill="#35b06c" opacity="0.7"/><circle cx="2.00" cy="0.17" r="0.91" fill="#35b06c" opacity="0.7"/><circle cx="-0.73" cy="3.90" r="0.91" fill="#35b06c" opacity="0.7"/><circle cx="0.18" cy="-1.84" r="0.91" fill="#35b06c" opacity="0.7"/><path d="M-2.45,-0.70 L0,0.70 L2.10,-1.75" stroke="#0e5e33" stroke-width="0.80" fill="none" opacity="0.7"/></g>
<g clip-path="url(#cc0)"><rect x="551.4" y="86" width="56" height="56" fill="#a3d3ee"/><g filter="url(#b1)"><ellipse cx="601.4" cy="118" rx="11" ry="26" fill="#a6c888"/><ellipse cx="599.4" cy="96" rx="9" ry="8" fill="#b9dbe9"/><path d="M571.4,116 C572.4,104 575.4,96 576.4,87" stroke="#b7dcc0" stroke-width="2.2" fill="none"/><path d="M566.4,114 C567.4,106 569.4,100 570.4,92" stroke="#c3e2cf" stroke-width="1.6" fill="none"/><ellipse cx="565.4" cy="137" rx="20" ry="11" fill="#86b23b"/><ellipse cx="566.4" cy="123" rx="12.5" ry="10" fill="#f3d522"/><ellipse cx="557.4" cy="117" rx="5" ry="5" fill="#ecd23a"/><ellipse cx="560.4" cy="131" rx="6" ry="5" fill="#f0cf2a"/><ellipse cx="569.4" cy="122" rx="3" ry="2.5" fill="#e6a91f"/><ellipse cx="560.4" cy="126" rx="2.2" ry="2" fill="#dfa426"/><ellipse cx="574.4" cy="134" rx="4" ry="5" fill="#7aa936"/><ellipse cx="588.9" cy="112" rx="13" ry="16.5" fill="#a3754b"/><ellipse cx="598.4" cy="122" rx="4.5" ry="9" fill="#8f6640"/><ellipse cx="588.4" cy="116.5" rx="8.6" ry="9.5" fill="#e9c0a2"/><path d="M576.4,112 C581.4,100 595.4,100 600.4,113 C593.4,106 583.4,106 576.4,112Z" fill="#b98a57"/><path d="M581.4,102 C585.4,99 591.4,99 595.4,102" stroke="#cfa677" stroke-width="1.6" fill="none"/><path d="M576.4,142 L577.9,132 L594.4,129.5 L599.4,142Z" fill="#223d7c"/><ellipse cx="585.4" cy="123.5" rx="8" ry="6.2" fill="#f5f5f5"/><ellipse cx="582.4" cy="128" rx="4" ry="4" fill="#eeeeee"/><ellipse cx="593.9" cy="127.5" rx="5.2" ry="4.6" fill="#e6b797"/></g><path d="M582.6,115.2 l3,0.6 M589.9,115.8 l3,-0.5" stroke="#5d4030" stroke-width="0.9" fill="none"/><circle cx="582.4" cy="135" r="0.8" fill="#e8edf6" opacity="0.85"/><circle cx="586.4" cy="137.5" r="0.8" fill="#e8edf6" opacity="0.85"/><circle cx="590.4" cy="135.5" r="0.8" fill="#e8edf6" opacity="0.85"/><circle cx="584.4" cy="139.5" r="0.8" fill="#e8edf6" opacity="0.85"/><circle cx="592.4" cy="138.5" r="0.8" fill="#e8edf6" opacity="0.85"/></g>
<circle cx="579.4" cy="114" r="26.4" fill="none" stroke="#7ab648" stroke-width="1.7"/>
<g clip-path="url(#cc1)"><rect x="551.3" y="162" width="56" height="56" fill="#fff"/><g filter="url(#b1)"><path d="M558.3,194 C555.3,180 565.3,174 570.3,182 L577.3,194 L587.3,200 L587.3,218 L565.3,218 Z" fill="#b98e5c"/><ellipse cx="599.3" cy="198" rx="6" ry="8" fill="#b48655" transform="rotate(-20 599.3 198)"/><ellipse cx="588.3" cy="185" rx="14.5" ry="14" fill="#cfa571"/><ellipse cx="586.3" cy="191" rx="6" ry="5" fill="#b5875a"/><ellipse cx="583.3" cy="193.5" rx="2.6" ry="3" fill="#e58c9a"/><circle cx="585.8" cy="187" r="1.6" fill="#3a2a1e"/><circle cx="580.3" cy="181" r="1" fill="#3a2a1e"/><circle cx="590.3" cy="182" r="1" fill="#3a2a1e"/><ellipse cx="564.3" cy="184" rx="3.5" ry="4" fill="#8e6a45"/></g><circle cx="571.5" cy="201.0" r="0.73" fill="#8b6740" opacity="0.6"/><circle cx="591.8" cy="180.5" r="0.74" fill="#efd6ab" opacity="0.6"/><circle cx="575.9" cy="188.3" r="0.65" fill="#8b6740" opacity="0.6"/><circle cx="598.2" cy="191.3" r="0.80" fill="#e3c493" opacity="0.6"/><circle cx="570.0" cy="197.4" r="0.83" fill="#efd6ab" opacity="0.6"/><circle cx="579.8" cy="176.7" r="0.53" fill="#e3c493" opacity="0.6"/><circle cx="564.4" cy="190.2" r="0.89" fill="#e3c493" opacity="0.6"/><circle cx="564.6" cy="189.9" r="0.75" fill="#9a744a" opacity="0.6"/><circle cx="583.7" cy="177.5" r="0.70" fill="#9a744a" opacity="0.6"/><circle cx="574.2" cy="213.7" r="0.85" fill="#e3c493" opacity="0.6"/><circle cx="567.1" cy="184.4" r="0.70" fill="#e3c493" opacity="0.6"/><circle cx="592.9" cy="178.4" r="0.92" fill="#e3c493" opacity="0.6"/><circle cx="559.3" cy="189.1" r="0.73" fill="#e3c493" opacity="0.6"/><circle cx="596.4" cy="184.0" r="0.78" fill="#e3c493" opacity="0.6"/><circle cx="564.7" cy="204.9" r="0.54" fill="#9a744a" opacity="0.6"/><circle cx="582.0" cy="196.1" r="0.57" fill="#e3c493" opacity="0.6"/><circle cx="578.4" cy="182.4" r="0.90" fill="#8b6740" opacity="0.6"/><circle cx="592.6" cy="193.7" r="0.75" fill="#8b6740" opacity="0.6"/><circle cx="585.9" cy="208.2" r="0.82" fill="#8b6740" opacity="0.6"/><circle cx="594.6" cy="190.6" r="0.50" fill="#dcb781" opacity="0.6"/><circle cx="582.6" cy="215.1" r="0.65" fill="#efd6ab" opacity="0.6"/><circle cx="592.8" cy="181.0" r="1.00" fill="#8b6740" opacity="0.6"/><circle cx="575.6" cy="201.6" r="0.99" fill="#e3c493" opacity="0.6"/><circle cx="580.2" cy="193.2" r="0.69" fill="#9a744a" opacity="0.6"/><circle cx="593.6" cy="187.7" r="0.51" fill="#dcb781" opacity="0.6"/><circle cx="569.3" cy="203.2" r="0.98" fill="#dcb781" opacity="0.6"/><circle cx="578.5" cy="186.0" r="0.59" fill="#8b6740" opacity="0.6"/><circle cx="563.5" cy="212.9" r="0.62" fill="#efd6ab" opacity="0.6"/><circle cx="592.4" cy="195.4" r="0.60" fill="#efd6ab" opacity="0.6"/><circle cx="585.0" cy="212.0" r="0.54" fill="#efd6ab" opacity="0.6"/><circle cx="592.4" cy="186.3" r="0.98" fill="#efd6ab" opacity="0.6"/><circle cx="565.7" cy="206.0" r="0.71" fill="#9a744a" opacity="0.6"/><circle cx="595.8" cy="179.9" r="0.59" fill="#efd6ab" opacity="0.6"/><circle cx="578.7" cy="184.3" r="0.74" fill="#dcb781" opacity="0.6"/><circle cx="582.5" cy="176.6" r="0.64" fill="#e3c493" opacity="0.6"/><circle cx="584.1" cy="188.9" r="0.53" fill="#e3c493" opacity="0.6"/><circle cx="560.6" cy="191.6" r="0.79" fill="#efd6ab" opacity="0.6"/><circle cx="593.6" cy="190.8" r="0.99" fill="#8b6740" opacity="0.6"/><circle cx="577.0" cy="205.5" r="0.97" fill="#efd6ab" opacity="0.6"/><circle cx="577.7" cy="178.3" r="0.96" fill="#8b6740" opacity="0.6"/><circle cx="578.2" cy="214.7" r="0.80" fill="#e3c493" opacity="0.6"/><circle cx="591.3" cy="186.5" r="0.66" fill="#9a744a" opacity="0.6"/><circle cx="586.3" cy="184.6" r="0.68" fill="#efd6ab" opacity="0.6"/><circle cx="600.4" cy="188.5" r="0.90" fill="#dcb781" opacity="0.6"/><circle cx="584.0" cy="194.0" r="0.95" fill="#8b6740" opacity="0.6"/><circle cx="594.1" cy="178.9" r="0.93" fill="#e3c493" opacity="0.6"/><circle cx="574.8" cy="203.2" r="0.69" fill="#8b6740" opacity="0.6"/><circle cx="591.8" cy="185.3" r="0.82" fill="#e3c493" opacity="0.6"/><circle cx="586.1" cy="211.9" r="0.69" fill="#9a744a" opacity="0.6"/><circle cx="587.4" cy="175.1" r="0.73" fill="#8b6740" opacity="0.6"/><circle cx="573.9" cy="199.6" r="0.51" fill="#efd6ab" opacity="0.6"/><circle cx="581.0" cy="179.6" r="0.98" fill="#dcb781" opacity="0.6"/><circle cx="562.3" cy="208.5" r="0.63" fill="#8b6740" opacity="0.6"/><circle cx="595.4" cy="185.5" r="0.60" fill="#efd6ab" opacity="0.6"/><circle cx="563.9" cy="212.8" r="0.75" fill="#8b6740" opacity="0.6"/><circle cx="566.1" cy="203.6" r="0.94" fill="#dcb781" opacity="0.6"/><circle cx="567.8" cy="186.6" r="0.68" fill="#8b6740" opacity="0.6"/><circle cx="590.4" cy="183.4" r="0.98" fill="#e3c493" opacity="0.6"/><circle cx="566.8" cy="187.8" r="0.74" fill="#8b6740" opacity="0.6"/><circle cx="598.9" cy="179.7" r="0.81" fill="#8b6740" opacity="0.6"/><circle cx="572.6" cy="192.7" r="0.73" fill="#efd6ab" opacity="0.6"/><circle cx="590.4" cy="186.0" r="0.52" fill="#efd6ab" opacity="0.6"/><circle cx="578.4" cy="201.4" r="0.82" fill="#9a744a" opacity="0.6"/><circle cx="578.7" cy="180.9" r="0.73" fill="#8b6740" opacity="0.6"/><circle cx="560.0" cy="210.2" r="0.89" fill="#dcb781" opacity="0.6"/><circle cx="592.0" cy="172.7" r="0.72" fill="#e3c493" opacity="0.6"/><circle cx="576.3" cy="204.3" r="0.98" fill="#9a744a" opacity="0.6"/><circle cx="586.0" cy="179.7" r="0.63" fill="#8b6740" opacity="0.6"/><circle cx="578.6" cy="207.7" r="0.86" fill="#efd6ab" opacity="0.6"/><circle cx="591.2" cy="191.1" r="0.77" fill="#9a744a" opacity="0.6"/><circle cx="584.9" cy="199.0" r="0.70" fill="#dcb781" opacity="0.6"/><circle cx="591.5" cy="173.1" r="0.71" fill="#e3c493" opacity="0.6"/><circle cx="583.4" cy="195.2" r="0.73" fill="#8b6740" opacity="0.6"/><circle cx="579.6" cy="176.2" r="0.78" fill="#8b6740" opacity="0.6"/><circle cx="576.9" cy="199.1" r="0.73" fill="#9a744a" opacity="0.6"/><circle cx="584.9" cy="180.2" r="0.61" fill="#e3c493" opacity="0.6"/><circle cx="583.6" cy="215.3" r="0.77" fill="#9a744a" opacity="0.6"/><circle cx="590.2" cy="177.9" r="0.67" fill="#e3c493" opacity="0.6"/><circle cx="561.5" cy="197.0" r="0.71" fill="#efd6ab" opacity="0.6"/><circle cx="586.3" cy="197.3" r="0.90" fill="#dcb781" opacity="0.6"/><circle cx="561.0" cy="209.2" r="0.77" fill="#dcb781" opacity="0.6"/><circle cx="583.5" cy="173.5" r="0.57" fill="#8b6740" opacity="0.6"/><circle cx="573.2" cy="206.6" r="0.97" fill="#8b6740" opacity="0.6"/><circle cx="575.6" cy="185.6" r="0.88" fill="#e3c493" opacity="0.6"/><ellipse cx="585.8" cy="190.5" rx="5" ry="4" fill="#b28357" opacity="0.8"/><ellipse cx="583.5" cy="193.6" rx="2.4" ry="2.9" fill="#e58c9a"/><ellipse cx="586.0999999999999" cy="187" rx="2" ry="1.5" fill="#33241a"/><circle cx="580.5" cy="181" r="1.1" fill="#33241a"/><circle cx="590.5" cy="182" r="1.1" fill="#33241a"/></g>
<circle cx="579.3" cy="190" r="26.6" fill="none" stroke="#6f9f4e" stroke-width="1.1"/>
<g clip-path="url(#cc2)"><rect x="551.3" y="238.2" width="56" height="56" fill="#d6e8f5"/><g filter="url(#b1)"><path d="M565.3,284.2 L577.3,272.2 L581.3,274.2 L569.3,286.2Z" fill="#c3dbec"/><path d="M580.3,238.2 L592.3,238.2 C599.3,248.2 607.3,258.2 604.3,270.2 C603.3,276.2 598.3,276.2 597.3,270.2 C595.3,264.2 589.3,262.2 587.3,262.2 C588.3,270.2 588.3,280.2 583.3,285.2 C580.3,286.2 579.3,280.2 578.3,270.2 C576.3,262.2 575.3,254.2 580.3,238.2Z" fill="#8a5947"/><path d="M582.3,242.2 C579.3,254.2 579.3,262.2 581.3,272.2" stroke="#c49a7e" stroke-width="2" fill="none"/><ellipse cx="589.3" cy="279.2" rx="3" ry="4" fill="#6d4436"/></g><line x1="561.3" y1="275.5" x2="585.3" y2="277.5" stroke="#7f8c96" stroke-width="1.2"/><line x1="563.3" y1="274.5" x2="585.3" y2="276.4" stroke="#f4f7f9" stroke-width="1.7"/><line x1="560.3" y1="274.4" x2="563.8" y2="274.8" stroke="#5d646a" stroke-width="1.8"/><line x1="585.3" y1="276.7" x2="591.3" y2="276.7" stroke="#d89a4d" stroke-width="2.2"/></g>
<circle cx="579.3" cy="266.2" r="26.2" fill="none" stroke="#7dbb4d" stroke-width="2"/>
<g clip-path="url(#cc3)"><rect x="551.2" y="308.7" width="56" height="56" fill="url(#dg)"/><circle cx="574.7" cy="345.7" r="0.32" fill="#4f4c49" opacity="0.8"/><circle cx="582.7" cy="329.5" r="0.32" fill="#c9b49c" opacity="0.8"/><circle cx="574.2" cy="336.5" r="0.45" fill="#5d5955" opacity="0.8"/><circle cx="580.3" cy="356.0" r="0.59" fill="#f4efe8" opacity="0.8"/><circle cx="588.0" cy="345.3" r="0.50" fill="#4f4c49" opacity="0.8"/><circle cx="597.6" cy="344.2" r="0.64" fill="#f4efe8" opacity="0.8"/><circle cx="602.3" cy="343.7" r="0.45" fill="#fff" opacity="0.8"/><circle cx="560.2" cy="331.7" r="0.59" fill="#c9b49c" opacity="0.8"/><circle cx="587.6" cy="354.7" r="0.37" fill="#4f4c49" opacity="0.8"/><circle cx="597.2" cy="349.3" r="0.32" fill="#c9b49c" opacity="0.8"/><circle cx="585.1" cy="357.3" r="0.57" fill="#5d5955" opacity="0.8"/><circle cx="554.8" cy="342.1" r="0.40" fill="#fff" opacity="0.8"/><circle cx="585.2" cy="315.8" r="0.33" fill="#e8dccf" opacity="0.8"/><circle cx="573.5" cy="354.1" r="0.56" fill="#fff" opacity="0.8"/><circle cx="573.1" cy="361.7" r="0.48" fill="#f4efe8" opacity="0.8"/><circle cx="586.9" cy="349.8" r="0.45" fill="#5d5955" opacity="0.8"/><circle cx="586.2" cy="335.0" r="0.50" fill="#c9b49c" opacity="0.8"/><circle cx="589.5" cy="326.4" r="0.42" fill="#4f4c49" opacity="0.8"/><circle cx="556.0" cy="337.2" r="0.59" fill="#f4efe8" opacity="0.8"/><circle cx="596.0" cy="330.6" r="0.32" fill="#4f4c49" opacity="0.8"/><circle cx="577.5" cy="322.3" r="0.65" fill="#c9b49c" opacity="0.8"/><circle cx="585.3" cy="324.2" r="0.61" fill="#5d5955" opacity="0.8"/><circle cx="564.8" cy="357.4" r="0.36" fill="#fff" opacity="0.8"/><circle cx="583.9" cy="340.9" r="0.35" fill="#fff" opacity="0.8"/><circle cx="579.4" cy="353.0" r="0.33" fill="#5d5955" opacity="0.8"/><circle cx="560.9" cy="342.7" r="0.59" fill="#e8dccf" opacity="0.8"/><circle cx="588.2" cy="326.4" r="0.65" fill="#5d5955" opacity="0.8"/><circle cx="572.6" cy="322.1" r="0.35" fill="#e8dccf" opacity="0.8"/><circle cx="584.8" cy="347.9" r="0.30" fill="#e8dccf" opacity="0.8"/><circle cx="584.6" cy="327.0" r="0.30" fill="#fff" opacity="0.8"/><circle cx="565.4" cy="344.4" r="0.41" fill="#c9b49c" opacity="0.8"/><circle cx="596.2" cy="353.8" r="0.53" fill="#c9b49c" opacity="0.8"/><circle cx="578.1" cy="319.2" r="0.58" fill="#4f4c49" opacity="0.8"/><circle cx="566.4" cy="347.0" r="0.47" fill="#f4efe8" opacity="0.8"/><circle cx="570.0" cy="343.3" r="0.45" fill="#e8dccf" opacity="0.8"/><circle cx="594.7" cy="349.5" r="0.30" fill="#f4efe8" opacity="0.8"/><circle cx="584.0" cy="343.4" r="0.51" fill="#fff" opacity="0.8"/><circle cx="589.9" cy="341.8" r="0.35" fill="#5d5955" opacity="0.8"/><circle cx="579.0" cy="352.0" r="0.47" fill="#fff" opacity="0.8"/><circle cx="592.8" cy="348.7" r="0.47" fill="#5d5955" opacity="0.8"/><circle cx="575.5" cy="345.8" r="0.42" fill="#4f4c49" opacity="0.8"/><circle cx="577.0" cy="360.3" r="0.48" fill="#e8dccf" opacity="0.8"/><circle cx="586.2" cy="361.1" r="0.35" fill="#fff" opacity="0.8"/><circle cx="575.1" cy="335.6" r="0.40" fill="#c9b49c" opacity="0.8"/><circle cx="574.3" cy="330.6" r="0.48" fill="#fff" opacity="0.8"/><circle cx="592.2" cy="328.2" r="0.49" fill="#e8dccf" opacity="0.8"/><circle cx="581.9" cy="322.0" r="0.51" fill="#e8dccf" opacity="0.8"/><circle cx="584.6" cy="314.7" r="0.58" fill="#e8dccf" opacity="0.8"/><circle cx="588.5" cy="316.4" r="0.37" fill="#e8dccf" opacity="0.8"/><circle cx="557.0" cy="337.7" r="0.58" fill="#f4efe8" opacity="0.8"/><circle cx="567.9" cy="338.7" r="0.63" fill="#c9b49c" opacity="0.8"/><circle cx="555.4" cy="344.9" r="0.63" fill="#fff" opacity="0.8"/><circle cx="571.1" cy="345.9" r="0.46" fill="#e8dccf" opacity="0.8"/><circle cx="569.7" cy="352.1" r="0.59" fill="#c9b49c" opacity="0.8"/><circle cx="558.4" cy="339.4" r="0.33" fill="#4f4c49" opacity="0.8"/><circle cx="566.0" cy="315.7" r="0.56" fill="#4f4c49" opacity="0.8"/><circle cx="568.3" cy="338.2" r="0.42" fill="#4f4c49" opacity="0.8"/><circle cx="587.2" cy="312.4" r="0.46" fill="#5d5955" opacity="0.8"/><circle cx="578.9" cy="329.1" r="0.36" fill="#e8dccf" opacity="0.8"/><circle cx="586.3" cy="343.9" r="0.58" fill="#5d5955" opacity="0.8"/><circle cx="593.5" cy="355.5" r="0.53" fill="#5d5955" opacity="0.8"/><circle cx="567.8" cy="352.3" r="0.31" fill="#e8dccf" opacity="0.8"/><circle cx="586.0" cy="315.6" r="0.48" fill="#f4efe8" opacity="0.8"/><circle cx="594.9" cy="329.8" r="0.59" fill="#e8dccf" opacity="0.8"/><circle cx="582.4" cy="349.4" r="0.48" fill="#fff" opacity="0.8"/><circle cx="580.5" cy="321.9" r="0.45" fill="#c9b49c" opacity="0.8"/><circle cx="596.1" cy="354.9" r="0.61" fill="#fff" opacity="0.8"/><circle cx="566.9" cy="316.7" r="0.45" fill="#c9b49c" opacity="0.8"/><circle cx="595.2" cy="327.6" r="0.35" fill="#c9b49c" opacity="0.8"/><circle cx="555.0" cy="335.1" r="0.51" fill="#e8dccf" opacity="0.8"/><circle cx="580.8" cy="326.8" r="0.47" fill="#e8dccf" opacity="0.8"/><circle cx="576.2" cy="317.5" r="0.54" fill="#fff" opacity="0.8"/><circle cx="561.5" cy="333.2" r="0.61" fill="#f4efe8" opacity="0.8"/><circle cx="589.9" cy="340.7" r="0.57" fill="#f4efe8" opacity="0.8"/><circle cx="559.7" cy="335.8" r="0.46" fill="#f4efe8" opacity="0.8"/><circle cx="565.1" cy="324.7" r="0.37" fill="#c9b49c" opacity="0.8"/><circle cx="576.0" cy="355.0" r="0.48" fill="#5d5955" opacity="0.8"/><circle cx="579.5" cy="355.5" r="0.62" fill="#fff" opacity="0.8"/><circle cx="588.3" cy="329.4" r="0.35" fill="#5d5955" opacity="0.8"/><circle cx="591.7" cy="348.7" r="0.53" fill="#f4efe8" opacity="0.8"/><circle cx="568.4" cy="341.9" r="0.57" fill="#fff" opacity="0.8"/><circle cx="587.4" cy="330.5" r="0.53" fill="#4f4c49" opacity="0.8"/><circle cx="570.5" cy="346.4" r="0.64" fill="#e8dccf" opacity="0.8"/><circle cx="584.0" cy="361.6" r="0.61" fill="#5d5955" opacity="0.8"/><circle cx="590.3" cy="354.8" r="0.36" fill="#e8dccf" opacity="0.8"/><circle cx="562.2" cy="344.5" r="0.45" fill="#fff" opacity="0.8"/><circle cx="574.3" cy="342.9" r="0.31" fill="#fff" opacity="0.8"/><circle cx="562.9" cy="331.0" r="0.43" fill="#f4efe8" opacity="0.8"/><circle cx="565.2" cy="335.2" r="0.34" fill="#f4efe8" opacity="0.8"/><circle cx="590.0" cy="330.6" r="0.33" fill="#f4efe8" opacity="0.8"/><circle cx="575.8" cy="361.2" r="0.39" fill="#e8dccf" opacity="0.8"/><circle cx="590.8" cy="349.0" r="0.59" fill="#4f4c49" opacity="0.8"/><circle cx="578.7" cy="346.7" r="0.50" fill="#c9b49c" opacity="0.8"/><circle cx="576.8" cy="329.3" r="0.58" fill="#f4efe8" opacity="0.8"/><circle cx="589.2" cy="359.2" r="0.63" fill="#fff" opacity="0.8"/><circle cx="563.7" cy="319.3" r="0.51" fill="#f4efe8" opacity="0.8"/><circle cx="581.5" cy="349.9" r="0.46" fill="#f4efe8" opacity="0.8"/><circle cx="568.9" cy="353.1" r="0.52" fill="#fff" opacity="0.8"/><circle cx="600.3" cy="342.6" r="0.64" fill="#f4efe8" opacity="0.8"/><circle cx="578.4" cy="347.7" r="0.52" fill="#fff" opacity="0.8"/><circle cx="567.6" cy="334.4" r="0.48" fill="#5d5955" opacity="0.8"/><circle cx="585.9" cy="350.5" r="0.65" fill="#f4efe8" opacity="0.8"/><circle cx="582.6" cy="337.5" r="0.49" fill="#c9b49c" opacity="0.8"/><circle cx="585.9" cy="353.3" r="0.34" fill="#5d5955" opacity="0.8"/><circle cx="586.4" cy="321.2" r="0.49" fill="#5d5955" opacity="0.8"/><circle cx="598.8" cy="320.2" r="0.54" fill="#fff" opacity="0.8"/><circle cx="594.3" cy="335.0" r="0.56" fill="#4f4c49" opacity="0.8"/><circle cx="595.7" cy="356.6" r="0.59" fill="#f4efe8" opacity="0.8"/><circle cx="599.7" cy="338.5" r="0.45" fill="#fff" opacity="0.8"/><circle cx="599.1" cy="343.9" r="0.60" fill="#5d5955" opacity="0.8"/><circle cx="572.6" cy="324.6" r="0.54" fill="#e8dccf" opacity="0.8"/><circle cx="589.9" cy="339.8" r="0.46" fill="#fff" opacity="0.8"/><circle cx="577.1" cy="362.1" r="0.41" fill="#c9b49c" opacity="0.8"/><circle cx="603.1" cy="341.9" r="0.42" fill="#e8dccf" opacity="0.8"/><circle cx="595.3" cy="336.8" r="0.40" fill="#5d5955" opacity="0.8"/><circle cx="572.0" cy="325.9" r="0.33" fill="#f4efe8" opacity="0.8"/><circle cx="583.2" cy="327.7" r="0.31" fill="#c9b49c" opacity="0.8"/><circle cx="593.4" cy="338.7" r="0.33" fill="#e8dccf" opacity="0.8"/><circle cx="602.4" cy="330.4" r="0.53" fill="#e8dccf" opacity="0.8"/><circle cx="574.0" cy="312.9" r="0.57" fill="#5d5955" opacity="0.8"/><circle cx="575.9" cy="318.7" r="0.55" fill="#fff" opacity="0.8"/><circle cx="575.8" cy="332.4" r="0.61" fill="#4f4c49" opacity="0.8"/><circle cx="563.7" cy="320.7" r="0.35" fill="#c9b49c" opacity="0.8"/><circle cx="560.9" cy="334.0" r="0.59" fill="#f4efe8" opacity="0.8"/><circle cx="558.0" cy="324.3" r="0.63" fill="#4f4c49" opacity="0.8"/><circle cx="574.5" cy="330.8" r="0.35" fill="#f4efe8" opacity="0.8"/><circle cx="573.8" cy="343.2" r="0.50" fill="#5d5955" opacity="0.8"/><circle cx="564.9" cy="321.9" r="0.39" fill="#4f4c49" opacity="0.8"/><circle cx="577.7" cy="354.2" r="0.56" fill="#f4efe8" opacity="0.8"/><circle cx="560.2" cy="336.3" r="0.48" fill="#4f4c49" opacity="0.8"/><circle cx="578.7" cy="318.8" r="0.60" fill="#f4efe8" opacity="0.8"/><circle cx="581.4" cy="359.2" r="0.56" fill="#e8dccf" opacity="0.8"/><circle cx="597.3" cy="333.9" r="0.33" fill="#5d5955" opacity="0.8"/><circle cx="591.0" cy="329.3" r="0.52" fill="#f4efe8" opacity="0.8"/><circle cx="574.7" cy="331.0" r="0.42" fill="#e8dccf" opacity="0.8"/><circle cx="566.6" cy="319.1" r="0.50" fill="#c9b49c" opacity="0.8"/><circle cx="585.6" cy="337.2" r="0.64" fill="#fff" opacity="0.8"/><circle cx="589.0" cy="343.8" r="0.40" fill="#5d5955" opacity="0.8"/><circle cx="561.6" cy="334.9" r="0.57" fill="#5d5955" opacity="0.8"/><circle cx="598.4" cy="335.9" r="0.64" fill="#fff" opacity="0.8"/><circle cx="582.4" cy="335.4" r="0.33" fill="#5d5955" opacity="0.8"/><circle cx="553.3" cy="335.6" r="0.44" fill="#fff" opacity="0.8"/><circle cx="600.9" cy="324.1" r="0.50" fill="#f4efe8" opacity="0.8"/><circle cx="591.0" cy="351.3" r="0.35" fill="#fff" opacity="0.8"/><circle cx="587.1" cy="319.9" r="0.55" fill="#f4efe8" opacity="0.8"/><circle cx="582.1" cy="361.2" r="0.44" fill="#5d5955" opacity="0.8"/><circle cx="592.9" cy="358.0" r="0.46" fill="#4f4c49" opacity="0.8"/><circle cx="576.1" cy="345.9" r="0.43" fill="#fff" opacity="0.8"/><circle cx="590.1" cy="347.0" r="0.56" fill="#fff" opacity="0.8"/><circle cx="584.0" cy="329.1" r="0.55" fill="#e8dccf" opacity="0.8"/><circle cx="590.6" cy="328.6" r="0.32" fill="#fff" opacity="0.8"/><circle cx="560.5" cy="352.1" r="0.43" fill="#f4efe8" opacity="0.8"/><circle cx="566.9" cy="342.7" r="0.40" fill="#f4efe8" opacity="0.8"/><circle cx="599.3" cy="343.4" r="0.63" fill="#4f4c49" opacity="0.8"/><circle cx="579.3" cy="350.1" r="0.41" fill="#c9b49c" opacity="0.8"/><circle cx="582.5" cy="313.9" r="0.61" fill="#5d5955" opacity="0.8"/><circle cx="587.0" cy="317.6" r="0.49" fill="#c9b49c" opacity="0.8"/><circle cx="578.1" cy="331.0" r="0.44" fill="#4f4c49" opacity="0.8"/><circle cx="571.9" cy="330.3" r="0.47" fill="#fff" opacity="0.8"/><circle cx="595.6" cy="326.6" r="0.47" fill="#e8dccf" opacity="0.8"/><circle cx="571.3" cy="348.5" r="0.56" fill="#4f4c49" opacity="0.8"/><circle cx="569.7" cy="323.1" r="0.41" fill="#e8dccf" opacity="0.8"/><circle cx="563.9" cy="330.9" r="0.53" fill="#e8dccf" opacity="0.8"/><circle cx="595.6" cy="345.1" r="0.49" fill="#5d5955" opacity="0.8"/><circle cx="564.8" cy="341.1" r="0.45" fill="#5d5955" opacity="0.8"/><circle cx="566.9" cy="332.9" r="0.42" fill="#e8dccf" opacity="0.8"/><circle cx="589.9" cy="343.6" r="0.58" fill="#fff" opacity="0.8"/><circle cx="580.3" cy="340.2" r="0.43" fill="#5d5955" opacity="0.8"/><circle cx="578.9" cy="324.8" r="0.42" fill="#fff" opacity="0.8"/><circle cx="591.9" cy="341.9" r="0.34" fill="#fff" opacity="0.8"/><circle cx="558.6" cy="336.3" r="0.33" fill="#e8dccf" opacity="0.8"/><circle cx="592.1" cy="327.0" r="0.46" fill="#4f4c49" opacity="0.8"/><circle cx="602.2" cy="329.9" r="0.34" fill="#f4efe8" opacity="0.8"/><circle cx="558.9" cy="347.0" r="0.64" fill="#5d5955" opacity="0.8"/><circle cx="572.2" cy="337.1" r="0.60" fill="#c9b49c" opacity="0.8"/><circle cx="592.0" cy="334.5" r="0.38" fill="#f4efe8" opacity="0.8"/><circle cx="594.0" cy="357.6" r="0.63" fill="#f4efe8" opacity="0.8"/><circle cx="575.5" cy="316.1" r="0.33" fill="#5d5955" opacity="0.8"/><circle cx="579.4" cy="335.8" r="0.38" fill="#e8dccf" opacity="0.8"/><circle cx="597.5" cy="326.6" r="0.64" fill="#fff" opacity="0.8"/><circle cx="566.0" cy="323.2" r="0.54" fill="#5d5955" opacity="0.8"/><circle cx="584.5" cy="341.2" r="0.63" fill="#c9b49c" opacity="0.8"/><circle cx="584.0" cy="349.1" r="0.30" fill="#c9b49c" opacity="0.8"/><circle cx="554.0" cy="330.6" r="0.64" fill="#fff" opacity="0.8"/><circle cx="564.2" cy="317.4" r="0.48" fill="#5d5955" opacity="0.8"/><circle cx="574.9" cy="335.4" r="0.55" fill="#5d5955" opacity="0.8"/><circle cx="577.8" cy="340.3" r="0.61" fill="#5d5955" opacity="0.8"/><circle cx="574.7" cy="330.8" r="0.53" fill="#e8dccf" opacity="0.8"/><circle cx="590.2" cy="331.1" r="0.54" fill="#f4efe8" opacity="0.8"/><circle cx="576.1" cy="321.4" r="0.37" fill="#5d5955" opacity="0.8"/><circle cx="585.7" cy="315.3" r="0.32" fill="#c9b49c" opacity="0.8"/><circle cx="567.6" cy="337.0" r="0.38" fill="#e8dccf" opacity="0.8"/><circle cx="583.2" cy="359.0" r="0.34" fill="#fff" opacity="0.8"/><circle cx="564.7" cy="322.5" r="0.47" fill="#e8dccf" opacity="0.8"/><circle cx="584.4" cy="333.4" r="0.35" fill="#c9b49c" opacity="0.8"/><circle cx="569.8" cy="344.1" r="0.35" fill="#c9b49c" opacity="0.8"/><circle cx="585.2" cy="338.7" r="0.46" fill="#5d5955" opacity="0.8"/><circle cx="575.8" cy="322.5" r="0.65" fill="#f4efe8" opacity="0.8"/><circle cx="592.8" cy="330.5" r="0.53" fill="#e8dccf" opacity="0.8"/><circle cx="561.6" cy="333.9" r="0.53" fill="#fff" opacity="0.8"/><circle cx="567.7" cy="347.7" r="0.45" fill="#fff" opacity="0.8"/><circle cx="584.8" cy="341.3" r="0.42" fill="#f4efe8" opacity="0.8"/><circle cx="588.0" cy="334.2" r="0.43" fill="#e8dccf" opacity="0.8"/><circle cx="580.9" cy="322.4" r="0.33" fill="#5d5955" opacity="0.8"/><circle cx="576.0" cy="325.6" r="0.62" fill="#c9b49c" opacity="0.8"/><circle cx="584.7" cy="351.4" r="0.31" fill="#5d5955" opacity="0.8"/><circle cx="559.4" cy="349.2" r="0.31" fill="#5d5955" opacity="0.8"/><circle cx="585.5" cy="338.1" r="0.39" fill="#f4efe8" opacity="0.8"/><circle cx="578.8" cy="312.1" r="0.43" fill="#fff" opacity="0.8"/><circle cx="566.3" cy="358.6" r="0.39" fill="#f4efe8" opacity="0.8"/><circle cx="576.2" cy="322.4" r="0.40" fill="#fff" opacity="0.8"/><circle cx="575.6" cy="317.0" r="0.63" fill="#4f4c49" opacity="0.8"/><circle cx="600.9" cy="346.1" r="0.47" fill="#f4efe8" opacity="0.8"/><circle cx="603.7" cy="329.9" r="0.58" fill="#5d5955" opacity="0.8"/><circle cx="599.3" cy="324.6" r="0.62" fill="#e8dccf" opacity="0.8"/><circle cx="588.7" cy="358.0" r="0.41" fill="#4f4c49" opacity="0.8"/><circle cx="575.6" cy="327.2" r="0.41" fill="#e8dccf" opacity="0.8"/><circle cx="572.6" cy="350.9" r="0.33" fill="#c9b49c" opacity="0.8"/><circle cx="586.5" cy="358.0" r="0.44" fill="#e8dccf" opacity="0.8"/><circle cx="568.6" cy="322.1" r="0.41" fill="#c9b49c" opacity="0.8"/><circle cx="603.5" cy="333.7" r="0.39" fill="#f4efe8" opacity="0.8"/><circle cx="586.2" cy="340.8" r="0.65" fill="#5d5955" opacity="0.8"/><circle cx="589.9" cy="334.8" r="0.45" fill="#e8dccf" opacity="0.8"/><circle cx="563.7" cy="322.1" r="0.49" fill="#4f4c49" opacity="0.8"/><circle cx="582.6" cy="314.3" r="0.40" fill="#fff" opacity="0.8"/><circle cx="564.7" cy="330.2" r="0.39" fill="#4f4c49" opacity="0.8"/><circle cx="568.8" cy="340.9" r="0.35" fill="#e8dccf" opacity="0.8"/><circle cx="594.0" cy="323.5" r="0.32" fill="#fff" opacity="0.8"/><circle cx="579.1" cy="349.6" r="0.38" fill="#c9b49c" opacity="0.8"/><circle cx="586.7" cy="317.1" r="0.34" fill="#f4efe8" opacity="0.8"/><circle cx="556.0" cy="340.4" r="0.62" fill="#5d5955" opacity="0.8"/><circle cx="592.8" cy="340.2" r="0.32" fill="#f4efe8" opacity="0.8"/><circle cx="560.1" cy="322.7" r="0.63" fill="#e8dccf" opacity="0.8"/><circle cx="562.4" cy="354.1" r="0.51" fill="#5d5955" opacity="0.8"/><circle cx="582.5" cy="315.8" r="0.34" fill="#f4efe8" opacity="0.8"/><circle cx="562.4" cy="325.1" r="0.31" fill="#e8dccf" opacity="0.8"/><circle cx="576.3" cy="341.3" r="0.31" fill="#fff" opacity="0.8"/><circle cx="576.4" cy="312.0" r="0.59" fill="#f4efe8" opacity="0.8"/><circle cx="565.9" cy="345.3" r="0.41" fill="#c9b49c" opacity="0.8"/><circle cx="585.9" cy="358.9" r="0.47" fill="#c9b49c" opacity="0.8"/><circle cx="559.8" cy="349.4" r="0.49" fill="#4f4c49" opacity="0.8"/><circle cx="574.2" cy="330.7" r="0.44" fill="#e8dccf" opacity="0.8"/><circle cx="575.8" cy="362.3" r="0.41" fill="#4f4c49" opacity="0.8"/><circle cx="593.1" cy="332.5" r="0.61" fill="#c9b49c" opacity="0.8"/><circle cx="576.2" cy="338.5" r="0.53" fill="#fff" opacity="0.8"/><circle cx="566.4" cy="347.2" r="0.45" fill="#f4efe8" opacity="0.8"/><circle cx="584.1" cy="344.0" r="0.44" fill="#f4efe8" opacity="0.8"/><circle cx="592.3" cy="324.8" r="0.35" fill="#e8dccf" opacity="0.8"/><circle cx="588.5" cy="339.8" r="0.33" fill="#5d5955" opacity="0.8"/><circle cx="567.8" cy="325.7" r="0.36" fill="#c9b49c" opacity="0.8"/><circle cx="573.2" cy="345.2" r="0.62" fill="#e8dccf" opacity="0.8"/><circle cx="593.3" cy="348.2" r="0.41" fill="#e8dccf" opacity="0.8"/><circle cx="582.0" cy="332.1" r="0.41" fill="#5d5955" opacity="0.8"/><circle cx="563.0" cy="323.7" r="0.62" fill="#f4efe8" opacity="0.8"/><circle cx="562.0" cy="320.5" r="0.52" fill="#e8dccf" opacity="0.8"/><circle cx="591.9" cy="320.6" r="0.60" fill="#c9b49c" opacity="0.8"/><circle cx="584.5" cy="326.9" r="0.31" fill="#e8dccf" opacity="0.8"/><circle cx="588.7" cy="332.8" r="0.34" fill="#fff" opacity="0.8"/><circle cx="579.6" cy="358.8" r="0.31" fill="#e8dccf" opacity="0.8"/><circle cx="558.3" cy="328.1" r="0.53" fill="#f4efe8" opacity="0.8"/><circle cx="571.9" cy="351.2" r="0.49" fill="#5d5955" opacity="0.8"/><circle cx="569.2" cy="326.4" r="0.41" fill="#5d5955" opacity="0.8"/><circle cx="579.3" cy="352.9" r="0.46" fill="#fff" opacity="0.8"/><circle cx="575.5" cy="338.2" r="0.65" fill="#c9b49c" opacity="0.8"/><circle cx="562.2" cy="340.5" r="0.57" fill="#c9b49c" opacity="0.8"/><circle cx="568.6" cy="339.6" r="0.44" fill="#5d5955" opacity="0.8"/><circle cx="593.4" cy="343.1" r="0.33" fill="#fff" opacity="0.8"/><circle cx="561.9" cy="343.3" r="0.31" fill="#f4efe8" opacity="0.8"/><circle cx="596.3" cy="354.9" r="0.57" fill="#fff" opacity="0.8"/><circle cx="573.2" cy="336.3" r="0.61" fill="#c9b49c" opacity="0.8"/><circle cx="566.0" cy="317.8" r="0.60" fill="#f4efe8" opacity="0.8"/><circle cx="601.4" cy="336.2" r="0.37" fill="#f4efe8" opacity="0.8"/><circle cx="597.3" cy="334.6" r="0.54" fill="#e8dccf" opacity="0.8"/><circle cx="577.0" cy="324.7" r="0.51" fill="#fff" opacity="0.8"/><circle cx="579.0" cy="351.5" r="0.40" fill="#c9b49c" opacity="0.8"/><circle cx="583.1" cy="327.7" r="0.64" fill="#c9b49c" opacity="0.8"/><circle cx="559.4" cy="339.2" r="0.48" fill="#c9b49c" opacity="0.8"/><circle cx="577.1" cy="341.2" r="0.44" fill="#e8dccf" opacity="0.8"/><circle cx="570.2" cy="326.3" r="0.61" fill="#fff" opacity="0.8"/><circle cx="590.5" cy="356.8" r="0.57" fill="#f4efe8" opacity="0.8"/><circle cx="602.2" cy="343.9" r="0.49" fill="#5d5955" opacity="0.8"/><circle cx="557.8" cy="324.9" r="0.39" fill="#f4efe8" opacity="0.8"/><circle cx="555.7" cy="331.3" r="0.58" fill="#4f4c49" opacity="0.8"/><circle cx="576.8" cy="362.5" r="0.35" fill="#c9b49c" opacity="0.8"/><circle cx="575.6" cy="343.2" r="0.36" fill="#e8dccf" opacity="0.8"/><circle cx="579.0" cy="331.0" r="0.39" fill="#c9b49c" opacity="0.8"/><circle cx="562.7" cy="316.9" r="0.62" fill="#c9b49c" opacity="0.8"/><circle cx="596.9" cy="323.1" r="0.31" fill="#4f4c49" opacity="0.8"/><circle cx="591.3" cy="353.2" r="0.45" fill="#5d5955" opacity="0.8"/><circle cx="575.5" cy="341.0" r="0.38" fill="#5d5955" opacity="0.8"/><circle cx="577.0" cy="333.5" r="0.50" fill="#f4efe8" opacity="0.8"/><circle cx="573.0" cy="354.4" r="0.38" fill="#c9b49c" opacity="0.8"/><circle cx="561.9" cy="326.7" r="0.43" fill="#e8dccf" opacity="0.8"/><circle cx="584.1" cy="327.6" r="0.63" fill="#f4efe8" opacity="0.8"/><circle cx="579.6" cy="346.7" r="0.32" fill="#f4efe8" opacity="0.8"/><circle cx="592.2" cy="353.4" r="0.44" fill="#fff" opacity="0.8"/><circle cx="579.0" cy="339.5" r="0.59" fill="#4f4c49" opacity="0.8"/><circle cx="594.9" cy="324.2" r="0.46" fill="#c9b49c" opacity="0.8"/><circle cx="599.8" cy="328.1" r="0.36" fill="#e8dccf" opacity="0.8"/><circle cx="585.6" cy="336.7" r="0.44" fill="#f4efe8" opacity="0.8"/><circle cx="579.7" cy="343.0" r="0.30" fill="#f4efe8" opacity="0.8"/><circle cx="555.3" cy="328.8" r="0.44" fill="#e8dccf" opacity="0.8"/><circle cx="558.5" cy="334.3" r="0.52" fill="#4f4c49" opacity="0.8"/><circle cx="583.4" cy="326.7" r="0.32" fill="#fff" opacity="0.8"/><circle cx="561.0" cy="318.3" r="0.57" fill="#4f4c49" opacity="0.8"/><circle cx="578.8" cy="334.7" r="0.56" fill="#5d5955" opacity="0.8"/><circle cx="557.3" cy="341.5" r="0.36" fill="#5d5955" opacity="0.8"/><circle cx="592.5" cy="336.4" r="0.31" fill="#4f4c49" opacity="0.8"/><circle cx="567.7" cy="356.0" r="0.63" fill="#4f4c49" opacity="0.8"/><circle cx="578.7" cy="342.6" r="0.49" fill="#4f4c49" opacity="0.8"/><circle cx="558.0" cy="345.7" r="0.64" fill="#c9b49c" opacity="0.8"/><circle cx="572.1" cy="360.7" r="0.33" fill="#e8dccf" opacity="0.8"/><circle cx="568.5" cy="336.2" r="0.59" fill="#e8dccf" opacity="0.8"/><circle cx="582.2" cy="346.6" r="0.37" fill="#fff" opacity="0.8"/><circle cx="563.8" cy="349.7" r="0.62" fill="#5d5955" opacity="0.8"/><circle cx="564.5" cy="320.9" r="0.59" fill="#4f4c49" opacity="0.8"/><circle cx="561.8" cy="332.7" r="0.54" fill="#c9b49c" opacity="0.8"/><circle cx="590.0" cy="323.3" r="0.38" fill="#4f4c49" opacity="0.8"/><circle cx="596.5" cy="321.4" r="0.52" fill="#5d5955" opacity="0.8"/><circle cx="601.1" cy="348.4" r="0.31" fill="#e8dccf" opacity="0.8"/></g>
<circle cx="579.2" cy="336.7" r="26" fill="none" stroke="#7cb648" stroke-width="2.3"/>
<g clip-path="url(#cc4)"><rect x="551.2" y="380.3" width="56" height="56" fill="url(#vg)"/><path d="M584.2,399.3 C584.2,394.3 589.2,394.3 589.2,399.3 C590.2,410.3 593.2,418.3 600.2,423.3" stroke="#5fd06e" stroke-width="1.2" fill="#25a54c"/><path d="M555.2,400.3 C559.2,392.3 569.2,390.3 567.2,396.3 C565.2,400.3 559.2,400.3 555.2,404.3" stroke="#5fd06e" stroke-width="1.2" fill="#25a54c"/><path d="M575.2,382.3 L581.2,388.3 L587.2,382.3" stroke="#58c868" stroke-width="1" fill="none"/><circle cx="567.0" cy="419.9" r="1.10" fill="none" stroke="#62d271" stroke-width="0.7"/><circle cx="572.9" cy="421.1" r="0.85" fill="none" stroke="#62d271" stroke-width="0.7"/><circle cx="563.4" cy="424.0" r="1.01" fill="none" stroke="#62d271" stroke-width="0.7"/><circle cx="566.9" cy="426.2" r="1.18" fill="none" stroke="#62d271" stroke-width="0.7"/><circle cx="576.6" cy="419.0" r="1.31" fill="none" stroke="#62d271" stroke-width="0.7"/><circle cx="565.6" cy="421.2" r="1.49" fill="none" stroke="#62d271" stroke-width="0.7"/><circle cx="571.6" cy="422.7" r="1.34" fill="none" stroke="#62d271" stroke-width="0.7"/><circle cx="564.2" cy="422.9" r="1.27" fill="none" stroke="#62d271" stroke-width="0.7"/><circle cx="568.0" cy="412.7" r="1.49" fill="none" stroke="#62d271" stroke-width="0.7"/><circle cx="570.8" cy="422.4" r="1.50" fill="none" stroke="#62d271" stroke-width="0.7"/><circle cx="574.6" cy="425.2" r="1.12" fill="none" stroke="#62d271" stroke-width="0.7"/><circle cx="576.0" cy="418.5" r="1.55" fill="none" stroke="#62d271" stroke-width="0.7"/><circle cx="577.3" cy="413.7" r="0.91" fill="none" stroke="#62d271" stroke-width="0.7"/><circle cx="566.7" cy="425.8" r="1.15" fill="none" stroke="#62d271" stroke-width="0.7"/><circle cx="598.2" cy="403.7" r="0.6" fill="#62d271"/><circle cx="597.3" cy="405.2" r="0.6" fill="#62d271"/><circle cx="596.0" cy="408.8" r="0.6" fill="#62d271"/><circle cx="597.9" cy="414.6" r="0.6" fill="#62d271"/><circle cx="598.7" cy="415.0" r="0.6" fill="#62d271"/><circle cx="600.1" cy="416.1" r="0.6" fill="#62d271"/><circle cx="598.6" cy="401.2" r="0.6" fill="#62d271"/><circle cx="600.1" cy="415.7" r="0.6" fill="#62d271"/><ellipse cx="597.7" cy="389.8" rx="1.2" ry="1.8" fill="#0d4a25" transform="rotate(30 597.7 389.8)"/></g>
<circle cx="579.2" cy="408.3" r="26.3" fill="none" stroke="#58c256" stroke-width="1.4"/>
<g opacity="0.999">
<text x="554.2" y="157" font-family="'Liberation Sans','DejaVu Sans',sans-serif" font-size="12.2" font-weight="700" fill="#1d1d1d" text-anchor="start" textLength="48.6" lengthAdjust="spacingAndGlyphs" >Pollen*</text>
<text x="546.8" y="229.4" font-family="'Liberation Sans','DejaVu Sans',sans-serif" font-size="12.2" font-weight="700" fill="#1d1d1d" text-anchor="start" textLength="76.4" lengthAdjust="spacingAndGlyphs" >Pet Dander</text>
<text x="544" y="306" font-family="'Liberation Sans','DejaVu Sans',sans-serif" font-size="12.2" font-weight="700" fill="#1d1d1d" text-anchor="start" textLength="91" lengthAdjust="spacingAndGlyphs" >Smoke Odor*</text>
<text x="562" y="375.4" font-family="'Liberation Sans','DejaVu Sans',sans-serif" font-size="12.2" font-weight="700" fill="#1d1d1d" text-anchor="start" textLength="37.4" lengthAdjust="spacingAndGlyphs" >Dust*</text>
<text x="540.8" y="447.5" font-family="'Liberation Sans','DejaVu Sans',sans-serif" font-size="12.2" font-weight="700" fill="#1d1d1d" text-anchor="start" textLength="77.4" lengthAdjust="spacingAndGlyphs" >Virus, Mold</text>
<text x="541" y="463.5" font-family="'Liberation Sans','DejaVu Sans',sans-serif" font-size="12.2" font-weight="700" fill="#1d1d1d" text-anchor="start" textLength="75" lengthAdjust="spacingAndGlyphs" >&amp; Bacteria*</text>
<line x1="185" y1="386.8" x2="215" y2="386.8" stroke="#76b244" stroke-width="1.6"/>
<line x1="292.3" y1="381" x2="292.3" y2="472" stroke="#76b244" stroke-width="1.5"/>
<line x1="414.6" y1="381" x2="414.6" y2="472" stroke="#6fa53e" stroke-width="1.1"/>
<circle cx="215" cy="386.8" r="7.1" fill="#7ac143"/>
<circle cx="292.3" cy="380.8" r="7.1" fill="#7ac143"/>
<circle cx="414.6" cy="381" r="7.1" fill="#7ac143"/>
<rect x="15.5" y="354.0" width="168.8" height="107.9" rx="7.9" ry="7.9" fill="#fff" stroke="#78aa4d" stroke-width="2.6"/>
<rect x="158.2" y="472.1" width="211.7" height="70.79999999999995" rx="5.2" ry="5.2" fill="#fff" stroke="#78aa4d" stroke-width="2.0"/>
<rect x="396.0" y="471.9" width="212.0" height="70.5" rx="5.2" ry="5.2" fill="#fff" stroke="#78aa4d" stroke-width="2.0"/>
<text x="24.0" y="376.6" font-family="'Liberation Sans','DejaVu Sans',sans-serif" font-size="14.2" font-weight="700" fill="#1d1d1d" text-anchor="start" textLength="96.4" lengthAdjust="spacingAndGlyphs" >ACTIVATED</text>
<text x="23.8" y="395.5" font-family="'Liberation Sans','DejaVu Sans',sans-serif" font-size="14.2" font-weight="700" fill="#1d1d1d" text-anchor="start" textLength="136.2" lengthAdjust="spacingAndGlyphs" >CARBON FILTER</text>
<text x="23.4" y="418.6" font-family="'DejaVu Sans','Liberation Sans',sans-serif" font-size="11.7" font-weight="400" fill="#333" text-anchor="start" textLength="140.2" lengthAdjust="spacingAndGlyphs" >Reduces odors from</text>
<text x="23.9" y="434.8" font-family="'DejaVu Sans','Liberation Sans',sans-serif" font-size="11.7" font-weight="400" fill="#333" text-anchor="start" textLength="153" lengthAdjust="spacingAndGlyphs" >cooking, smoking and</text>
<text x="24.4" y="451.1" font-family="'DejaVu Sans','Liberation Sans',sans-serif" font-size="11.7" font-weight="400" fill="#333" text-anchor="start" textLength="35.5" lengthAdjust="spacingAndGlyphs" >more</text>
<text x="193.2" y="490.9" font-family="'Liberation Sans','DejaVu Sans',sans-serif" font-size="13.2" font-weight="700" fill="#1d1d1d" text-anchor="start" textLength="142.2" lengthAdjust="spacingAndGlyphs" >TRUE HEPA FILTER</text>
<text x="174.2" y="507" font-family="'DejaVu Sans','Liberation Sans',sans-serif" font-size="11.7" font-weight="400" fill="#333" text-anchor="start" textLength="179.6" lengthAdjust="spacingAndGlyphs" >H13 level filter captures up to</text>
<text x="166.5" y="521" font-family="'DejaVu Sans','Liberation Sans',sans-serif" font-size="11.7" font-weight="400" fill="#333" text-anchor="start" textLength="195.6" lengthAdjust="spacingAndGlyphs" >99.99%* of airborne particles up</text>
<text x="220" y="534.7" font-family="'DejaVu Sans','Liberation Sans',sans-serif" font-size="11.7" font-weight="400" fill="#333" text-anchor="start" textLength="87.6" lengthAdjust="spacingAndGlyphs" >to .30 microns</text>
<text x="458.6" y="489.8" font-family="'Liberation Sans','DejaVu Sans',sans-serif" font-size="13.2" font-weight="700" fill="#1d1d1d" text-anchor="start" textLength="83.2" lengthAdjust="spacingAndGlyphs" >PREFILTER</text>
<text x="409.6" y="506" font-family="'DejaVu Sans','Liberation Sans',sans-serif" font-size="11.7" font-weight="400" fill="#333" text-anchor="start" textLength="180.6" lengthAdjust="spacingAndGlyphs" >Captures large particles such</text>
<text x="426" y="520" font-family="'DejaVu Sans','Liberation Sans',sans-serif" font-size="11.7" font-weight="400" fill="#333" text-anchor="start" textLength="146.6" lengthAdjust="spacingAndGlyphs" >as dust, hair, and debris</text>
<text x="231.2" y="28.3" font-family="'Liberation Sans','DejaVu Sans',sans-serif" font-size="34.6" font-weight="700" fill="#111" text-anchor="start" textLength="216.2" lengthAdjust="spacingAndGlyphs" stroke="#111" stroke-width="0.6">Multi Stage</text>
<text x="246.4" y="73.3" font-family="'Liberation Sans','DejaVu Sans',sans-serif" font-size="34.6" font-weight="700" fill="#79be44" text-anchor="start" textLength="175.0" lengthAdjust="spacingAndGlyphs" stroke="#79be44" stroke-width="0.6">Filtration</text>
<line x1="0" y1="577.8" x2="647.5" y2="577.8" stroke="#a9d18a" stroke-width="1.2"/>
<text x="1" y="598" font-family="'Liberation Sans','DejaVu Sans',sans-serif" font-size="8.6" font-weight="400" fill="#7d7d7d" text-anchor="start" textLength="647" lengthAdjust="spacingAndGlyphs" >* Based on third-party testing, specifically, for dust at 0.5-3 microns (10-600 CADR), tobacco smoke at 0.1-1.0 microns (10-600 CADR), and pollen at 5-11 microns (25-450 CADR,</text>
<text x="1" y="610" font-family="'Liberation Sans','DejaVu Sans',sans-serif" font-size="8.6" font-weight="400" fill="#7d7d7d" text-anchor="start" textLength="647" lengthAdjust="spacingAndGlyphs" >as indicated by third-party testing conducted pursuant to ANSI/AHAM AC-1-2020 at 120 V 60 Hz and with Turbo Speed, the Ionizer, and UV-C function turned on. Independently</text>
<text x="1" y="622" font-family="'Liberation Sans','DejaVu Sans',sans-serif" font-size="8.6" font-weight="400" fill="#7d7d7d" text-anchor="start" textLength="647" lengthAdjust="spacingAndGlyphs" >tested by third-party lab to remove 99.99% for H1N1 Influenza A virus, 99.99% for Escherichia Coli, 99.99% for Staphylococcus Aureus, and 99.99% for Aspergillus Niger. True HEPA</text>
<text x="1" y="633.8" font-family="'Liberation Sans','DejaVu Sans',sans-serif" font-size="8.6" font-weight="400" fill="#7d7d7d" text-anchor="start" textLength="647" lengthAdjust="spacingAndGlyphs" >filter efficiency of 99.999% with respect to .03 µm in diameter indicated by third party testing conducted pursuant to method EN ISO 29463-3:2018. InvisiClean makes no claim</text>
<text x="1" y="645.5" font-family="'Liberation Sans','DejaVu Sans',sans-serif" font-size="8.6" font-weight="400" fill="#7d7d7d" text-anchor="start" textLength="271" lengthAdjust="spacingAndGlyphs" >that this product helps eliminate or reduce the transmission of COVID-19.</text>
</g>
</svg>
</body></html>
